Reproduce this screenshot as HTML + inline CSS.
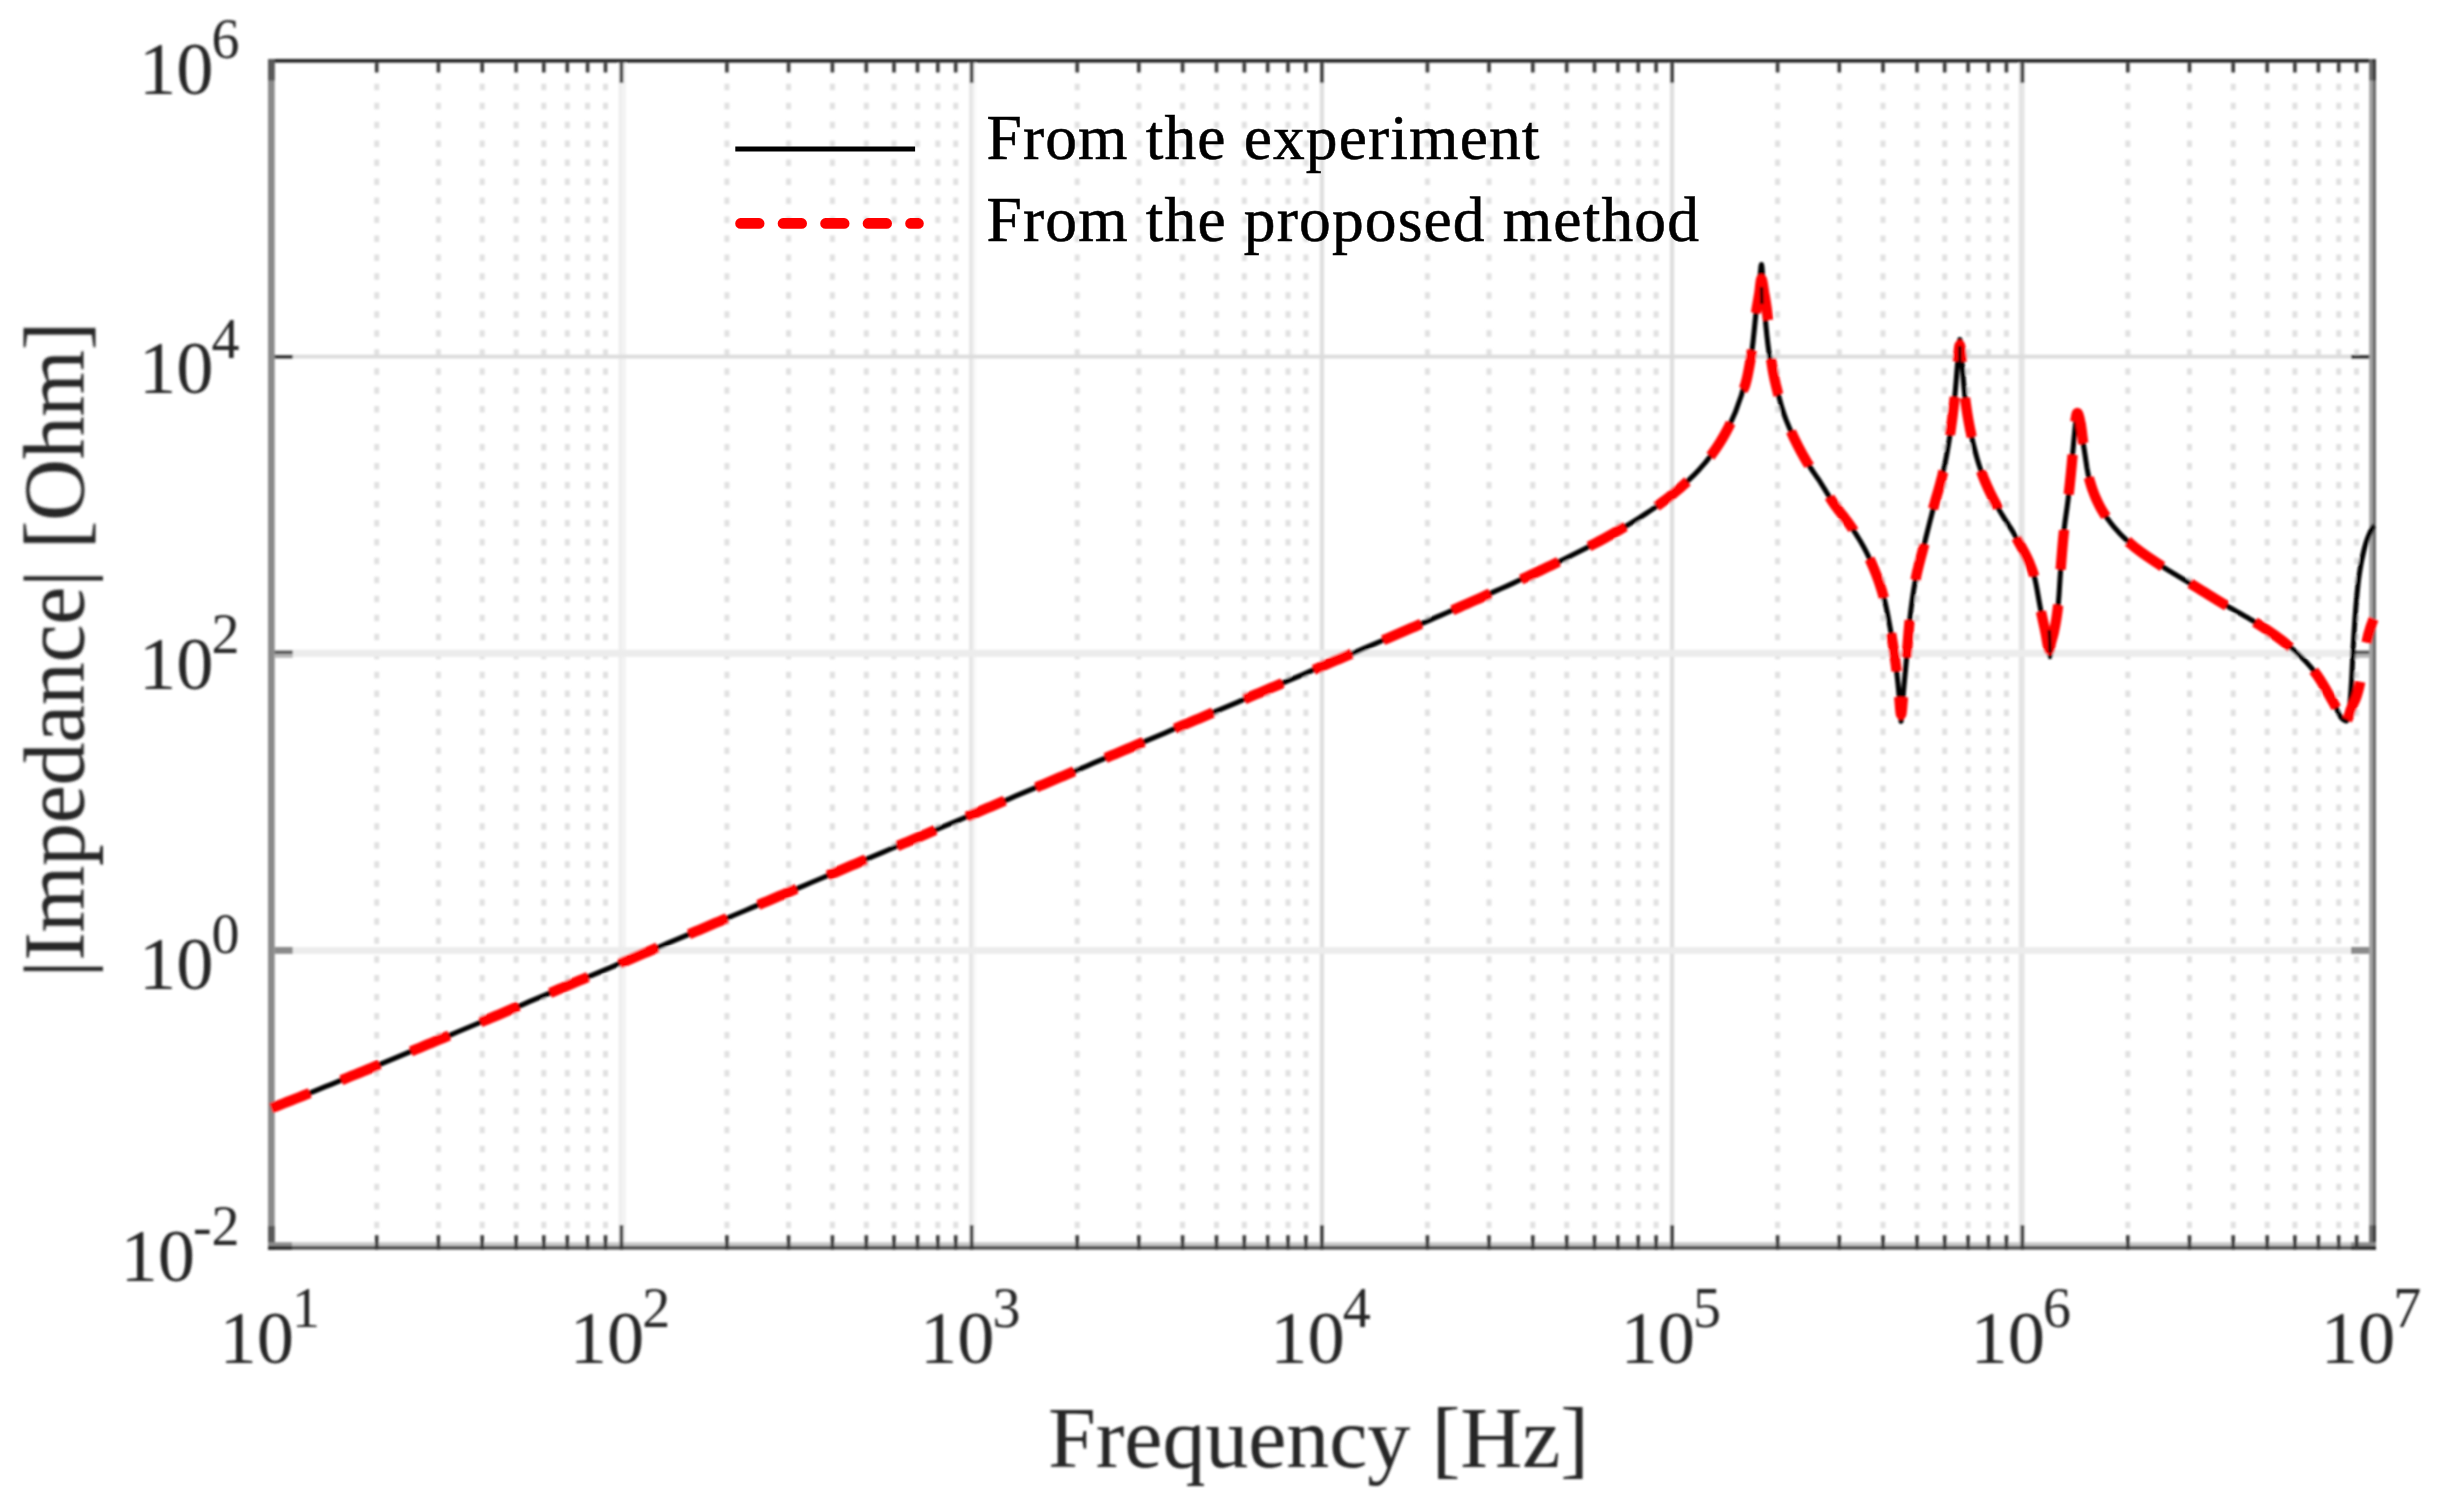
<!DOCTYPE html>
<html lang="en">
<head>
<meta charset="utf-8">
<title>Impedance versus frequency</title>
<style>
html,body{margin:0;padding:0;background:#fff;}
body{width:2440px;height:1505px;overflow:hidden;}
svg{display:block;}
</style>
</head>
<body>
<svg width="2440" height="1505" viewBox="0 0 2440 1505">
<rect width="2440" height="1505" fill="#fff"/>
<defs><filter id="soft" x="-2%" y="-2%" width="104%" height="104%"><feGaussianBlur stdDeviation="0.9"/></filter></defs>
<g filter="url(#soft)">
<g stroke="#e1e1e1" stroke-width="5" stroke-dasharray="6.5 12.466">
<line x1="376.7" y1="83.7" x2="376.7" y2="1238.0"/>
<line x1="438.4" y1="83.7" x2="438.4" y2="1238.0"/>
<line x1="482.2" y1="83.7" x2="482.2" y2="1238.0"/>
<line x1="516.1" y1="83.7" x2="516.1" y2="1238.0"/>
<line x1="543.8" y1="83.7" x2="543.8" y2="1238.0"/>
<line x1="567.3" y1="83.7" x2="567.3" y2="1238.0"/>
<line x1="587.6" y1="83.7" x2="587.6" y2="1238.0"/>
<line x1="605.5" y1="83.7" x2="605.5" y2="1238.0"/>
<line x1="726.9" y1="83.7" x2="726.9" y2="1238.0"/>
<line x1="788.6" y1="83.7" x2="788.6" y2="1238.0"/>
<line x1="832.4" y1="83.7" x2="832.4" y2="1238.0"/>
<line x1="866.3" y1="83.7" x2="866.3" y2="1238.0"/>
<line x1="894.0" y1="83.7" x2="894.0" y2="1238.0"/>
<line x1="917.5" y1="83.7" x2="917.5" y2="1238.0"/>
<line x1="937.8" y1="83.7" x2="937.8" y2="1238.0"/>
<line x1="955.7" y1="83.7" x2="955.7" y2="1238.0"/>
<line x1="1077.2" y1="83.7" x2="1077.2" y2="1238.0"/>
<line x1="1138.8" y1="83.7" x2="1138.8" y2="1238.0"/>
<line x1="1182.6" y1="83.7" x2="1182.6" y2="1238.0"/>
<line x1="1216.5" y1="83.7" x2="1216.5" y2="1238.0"/>
<line x1="1244.3" y1="83.7" x2="1244.3" y2="1238.0"/>
<line x1="1267.7" y1="83.7" x2="1267.7" y2="1238.0"/>
<line x1="1288.0" y1="83.7" x2="1288.0" y2="1238.0"/>
<line x1="1305.9" y1="83.7" x2="1305.9" y2="1238.0"/>
<line x1="1427.4" y1="83.7" x2="1427.4" y2="1238.0"/>
<line x1="1489.0" y1="83.7" x2="1489.0" y2="1238.0"/>
<line x1="1532.8" y1="83.7" x2="1532.8" y2="1238.0"/>
<line x1="1566.7" y1="83.7" x2="1566.7" y2="1238.0"/>
<line x1="1594.5" y1="83.7" x2="1594.5" y2="1238.0"/>
<line x1="1617.9" y1="83.7" x2="1617.9" y2="1238.0"/>
<line x1="1638.2" y1="83.7" x2="1638.2" y2="1238.0"/>
<line x1="1656.1" y1="83.7" x2="1656.1" y2="1238.0"/>
<line x1="1777.6" y1="83.7" x2="1777.6" y2="1238.0"/>
<line x1="1839.3" y1="83.7" x2="1839.3" y2="1238.0"/>
<line x1="1883.0" y1="83.7" x2="1883.0" y2="1238.0"/>
<line x1="1917.0" y1="83.7" x2="1917.0" y2="1238.0"/>
<line x1="1944.7" y1="83.7" x2="1944.7" y2="1238.0"/>
<line x1="1968.1" y1="83.7" x2="1968.1" y2="1238.0"/>
<line x1="1988.4" y1="83.7" x2="1988.4" y2="1238.0"/>
<line x1="2006.4" y1="83.7" x2="2006.4" y2="1238.0"/>
<line x1="2127.8" y1="83.7" x2="2127.8" y2="1238.0"/>
<line x1="2189.5" y1="83.7" x2="2189.5" y2="1238.0"/>
<line x1="2233.2" y1="83.7" x2="2233.2" y2="1238.0"/>
<line x1="2267.2" y1="83.7" x2="2267.2" y2="1238.0"/>
<line x1="2294.9" y1="83.7" x2="2294.9" y2="1238.0"/>
<line x1="2318.4" y1="83.7" x2="2318.4" y2="1238.0"/>
<line x1="2338.7" y1="83.7" x2="2338.7" y2="1238.0"/>
<line x1="2356.6" y1="83.7" x2="2356.6" y2="1238.0"/>
</g>
<rect x="618.6" y="60.8" width="3.7" height="1185.2" fill="#eeeeee"/>
<rect x="622.3" y="60.8" width="3.7" height="1185.2" fill="#f3f3f3"/>
<rect x="969.0" y="60.8" width="4.0" height="1185.2" fill="#e6e6e6"/>
<rect x="973.0" y="60.8" width="3.1" height="1185.2" fill="#f7f7f7"/>
<rect x="1319.8" y="60.8" width="4.3" height="1185.2" fill="#dfdfdf"/>
<rect x="1669.9" y="60.8" width="4.3" height="1185.2" fill="#dfdfdf"/>
<rect x="2018.8" y="60.8" width="5.7" height="1185.2" fill="#e4e4e4"/>
<rect x="271.3" y="354.7" width="2101.3" height="3.8" fill="#dcdcdc"/>
<rect x="271.3" y="649.8" width="2101.3" height="7.0" fill="#ececec"/>
<rect x="271.3" y="947.2" width="2101.3" height="6.6" fill="#ececec"/>
<rect x="268" y="59" width="6.7" height="1190.6" fill="#8a8a8a"/>
<rect x="2369.2" y="59" width="3.4" height="1190.6" fill="#a0a0a0"/>
<rect x="2372.6" y="59" width="3.4" height="1190.6" fill="#6a6a6a"/>
<rect x="268" y="1242.3" width="2108" height="3.7" fill="#c4c4c4"/>
<rect x="268" y="1246" width="2108" height="3.6" fill="#4a4a4a"/>
<rect x="268" y="59" width="2108" height="3.6" fill="#222"/>
<rect x="268" y="59" width="6.7" height="21.5" fill="#585858"/>
<rect x="268" y="1226" width="6.7" height="23.6" fill="#585858"/>
<rect x="2369.2" y="59" width="3.4" height="21.5" fill="#6c6c6c"/>
<rect x="2372.6" y="59" width="3.4" height="21.5" fill="#3a3a3a"/>
<rect x="2369.2" y="1225.3" width="3.4" height="24.3" fill="#6c6c6c"/>
<rect x="2372.6" y="1225.3" width="3.4" height="24.3" fill="#3a3a3a"/>
<rect x="268" y="1242.3" width="24" height="3.7" fill="#8c8c8c"/>
<rect x="268" y="1246" width="24" height="3.6" fill="#2c2c2c"/>
<rect x="2351" y="1242.3" width="25" height="3.7" fill="#8c8c8c"/>
<rect x="2351" y="1246" width="25" height="3.6" fill="#2c2c2c"/>
<g stroke="#383838" stroke-width="3.6">
<line x1="376.7" y1="62.6" x2="376.7" y2="72.5"/>
<line x1="376.7" y1="1235.2" x2="376.7" y2="1249.6"/>
<line x1="438.4" y1="62.6" x2="438.4" y2="72.5"/>
<line x1="438.4" y1="1235.2" x2="438.4" y2="1249.6"/>
<line x1="482.2" y1="62.6" x2="482.2" y2="72.5"/>
<line x1="482.2" y1="1235.2" x2="482.2" y2="1249.6"/>
<line x1="516.1" y1="62.6" x2="516.1" y2="72.5"/>
<line x1="516.1" y1="1235.2" x2="516.1" y2="1249.6"/>
<line x1="543.8" y1="62.6" x2="543.8" y2="72.5"/>
<line x1="543.8" y1="1235.2" x2="543.8" y2="1249.6"/>
<line x1="567.3" y1="62.6" x2="567.3" y2="72.5"/>
<line x1="567.3" y1="1235.2" x2="567.3" y2="1249.6"/>
<line x1="587.6" y1="62.6" x2="587.6" y2="72.5"/>
<line x1="587.6" y1="1235.2" x2="587.6" y2="1249.6"/>
<line x1="605.5" y1="62.6" x2="605.5" y2="72.5"/>
<line x1="605.5" y1="1235.2" x2="605.5" y2="1249.6"/>
<line x1="726.9" y1="62.6" x2="726.9" y2="72.5"/>
<line x1="726.9" y1="1235.2" x2="726.9" y2="1249.6"/>
<line x1="788.6" y1="62.6" x2="788.6" y2="72.5"/>
<line x1="788.6" y1="1235.2" x2="788.6" y2="1249.6"/>
<line x1="832.4" y1="62.6" x2="832.4" y2="72.5"/>
<line x1="832.4" y1="1235.2" x2="832.4" y2="1249.6"/>
<line x1="866.3" y1="62.6" x2="866.3" y2="72.5"/>
<line x1="866.3" y1="1235.2" x2="866.3" y2="1249.6"/>
<line x1="894.0" y1="62.6" x2="894.0" y2="72.5"/>
<line x1="894.0" y1="1235.2" x2="894.0" y2="1249.6"/>
<line x1="917.5" y1="62.6" x2="917.5" y2="72.5"/>
<line x1="917.5" y1="1235.2" x2="917.5" y2="1249.6"/>
<line x1="937.8" y1="62.6" x2="937.8" y2="72.5"/>
<line x1="937.8" y1="1235.2" x2="937.8" y2="1249.6"/>
<line x1="955.7" y1="62.6" x2="955.7" y2="72.5"/>
<line x1="955.7" y1="1235.2" x2="955.7" y2="1249.6"/>
<line x1="1077.2" y1="62.6" x2="1077.2" y2="72.5"/>
<line x1="1077.2" y1="1235.2" x2="1077.2" y2="1249.6"/>
<line x1="1138.8" y1="62.6" x2="1138.8" y2="72.5"/>
<line x1="1138.8" y1="1235.2" x2="1138.8" y2="1249.6"/>
<line x1="1182.6" y1="62.6" x2="1182.6" y2="72.5"/>
<line x1="1182.6" y1="1235.2" x2="1182.6" y2="1249.6"/>
<line x1="1216.5" y1="62.6" x2="1216.5" y2="72.5"/>
<line x1="1216.5" y1="1235.2" x2="1216.5" y2="1249.6"/>
<line x1="1244.3" y1="62.6" x2="1244.3" y2="72.5"/>
<line x1="1244.3" y1="1235.2" x2="1244.3" y2="1249.6"/>
<line x1="1267.7" y1="62.6" x2="1267.7" y2="72.5"/>
<line x1="1267.7" y1="1235.2" x2="1267.7" y2="1249.6"/>
<line x1="1288.0" y1="62.6" x2="1288.0" y2="72.5"/>
<line x1="1288.0" y1="1235.2" x2="1288.0" y2="1249.6"/>
<line x1="1305.9" y1="62.6" x2="1305.9" y2="72.5"/>
<line x1="1305.9" y1="1235.2" x2="1305.9" y2="1249.6"/>
<line x1="1427.4" y1="62.6" x2="1427.4" y2="72.5"/>
<line x1="1427.4" y1="1235.2" x2="1427.4" y2="1249.6"/>
<line x1="1489.0" y1="62.6" x2="1489.0" y2="72.5"/>
<line x1="1489.0" y1="1235.2" x2="1489.0" y2="1249.6"/>
<line x1="1532.8" y1="62.6" x2="1532.8" y2="72.5"/>
<line x1="1532.8" y1="1235.2" x2="1532.8" y2="1249.6"/>
<line x1="1566.7" y1="62.6" x2="1566.7" y2="72.5"/>
<line x1="1566.7" y1="1235.2" x2="1566.7" y2="1249.6"/>
<line x1="1594.5" y1="62.6" x2="1594.5" y2="72.5"/>
<line x1="1594.5" y1="1235.2" x2="1594.5" y2="1249.6"/>
<line x1="1617.9" y1="62.6" x2="1617.9" y2="72.5"/>
<line x1="1617.9" y1="1235.2" x2="1617.9" y2="1249.6"/>
<line x1="1638.2" y1="62.6" x2="1638.2" y2="72.5"/>
<line x1="1638.2" y1="1235.2" x2="1638.2" y2="1249.6"/>
<line x1="1656.1" y1="62.6" x2="1656.1" y2="72.5"/>
<line x1="1656.1" y1="1235.2" x2="1656.1" y2="1249.6"/>
<line x1="1777.6" y1="62.6" x2="1777.6" y2="72.5"/>
<line x1="1777.6" y1="1235.2" x2="1777.6" y2="1249.6"/>
<line x1="1839.3" y1="62.6" x2="1839.3" y2="72.5"/>
<line x1="1839.3" y1="1235.2" x2="1839.3" y2="1249.6"/>
<line x1="1883.0" y1="62.6" x2="1883.0" y2="72.5"/>
<line x1="1883.0" y1="1235.2" x2="1883.0" y2="1249.6"/>
<line x1="1917.0" y1="62.6" x2="1917.0" y2="72.5"/>
<line x1="1917.0" y1="1235.2" x2="1917.0" y2="1249.6"/>
<line x1="1944.7" y1="62.6" x2="1944.7" y2="72.5"/>
<line x1="1944.7" y1="1235.2" x2="1944.7" y2="1249.6"/>
<line x1="1968.1" y1="62.6" x2="1968.1" y2="72.5"/>
<line x1="1968.1" y1="1235.2" x2="1968.1" y2="1249.6"/>
<line x1="1988.4" y1="62.6" x2="1988.4" y2="72.5"/>
<line x1="1988.4" y1="1235.2" x2="1988.4" y2="1249.6"/>
<line x1="2006.4" y1="62.6" x2="2006.4" y2="72.5"/>
<line x1="2006.4" y1="1235.2" x2="2006.4" y2="1249.6"/>
<line x1="2127.8" y1="62.6" x2="2127.8" y2="72.5"/>
<line x1="2127.8" y1="1235.2" x2="2127.8" y2="1249.6"/>
<line x1="2189.5" y1="62.6" x2="2189.5" y2="72.5"/>
<line x1="2189.5" y1="1235.2" x2="2189.5" y2="1249.6"/>
<line x1="2233.2" y1="62.6" x2="2233.2" y2="72.5"/>
<line x1="2233.2" y1="1235.2" x2="2233.2" y2="1249.6"/>
<line x1="2267.2" y1="62.6" x2="2267.2" y2="72.5"/>
<line x1="2267.2" y1="1235.2" x2="2267.2" y2="1249.6"/>
<line x1="2294.9" y1="62.6" x2="2294.9" y2="72.5"/>
<line x1="2294.9" y1="1235.2" x2="2294.9" y2="1249.6"/>
<line x1="2318.4" y1="62.6" x2="2318.4" y2="72.5"/>
<line x1="2318.4" y1="1235.2" x2="2318.4" y2="1249.6"/>
<line x1="2338.7" y1="62.6" x2="2338.7" y2="72.5"/>
<line x1="2338.7" y1="1235.2" x2="2338.7" y2="1249.6"/>
<line x1="2356.6" y1="62.6" x2="2356.6" y2="72.5"/>
<line x1="2356.6" y1="1235.2" x2="2356.6" y2="1249.6"/>
<line x1="621.5" y1="62.6" x2="621.5" y2="83.0"/>
<line x1="621.5" y1="1225.0" x2="621.5" y2="1249.6"/>
<line x1="971.7" y1="62.6" x2="971.7" y2="83.0"/>
<line x1="971.7" y1="1225.0" x2="971.7" y2="1249.6"/>
<line x1="1321.9" y1="62.6" x2="1321.9" y2="83.0"/>
<line x1="1321.9" y1="1225.0" x2="1321.9" y2="1249.6"/>
<line x1="1672.2" y1="62.6" x2="1672.2" y2="83.0"/>
<line x1="1672.2" y1="1225.0" x2="1672.2" y2="1249.6"/>
<line x1="2022.4" y1="62.6" x2="2022.4" y2="83.0"/>
<line x1="2022.4" y1="1225.0" x2="2022.4" y2="1249.6"/>
</g>
<rect x="274.7" y="355.0" width="18" height="3.5" fill="#262626"/>
<rect x="2351" y="355.0" width="18.2" height="3.5" fill="#262626"/>
<rect x="274.7" y="650.6" width="18" height="3.3" fill="#484848"/>
<rect x="2351" y="650.6" width="18.2" height="3.3" fill="#484848"/>
<rect x="274.7" y="653.9" width="18" height="3.9" fill="#b4b4b4"/>
<rect x="2351" y="653.9" width="18.2" height="3.9" fill="#b4b4b4"/>
<rect x="274.7" y="947.0" width="18" height="6.8" fill="#8a8a8a"/>
<rect x="2351" y="947.0" width="18.2" height="6.8" fill="#8a8a8a"/>
<clipPath id="ax"><rect x="268.0" y="60.8" width="2111.0" height="1185.2"/></clipPath>
<g clip-path="url(#ax)" fill="none" stroke-linejoin="round">
<path d="M271.3 1108.2 L277.3 1105.9 L283.3 1103.5 L289.3 1101.2 L295.3 1098.8 L301.3 1096.4 L307.3 1094.0 L313.3 1091.6 L319.3 1089.2 L325.3 1086.7 L331.3 1084.3 L337.3 1081.9 L343.3 1079.4 L349.3 1077.0 L355.3 1074.5 L361.3 1072.0 L367.3 1069.6 L373.3 1067.1 L379.3 1064.6 L385.3 1062.1 L391.3 1059.6 L397.3 1057.1 L403.3 1054.6 L409.3 1052.1 L415.3 1049.6 L421.3 1047.1 L427.3 1044.6 L433.3 1042.1 L439.3 1039.6 L445.3 1037.1 L451.3 1034.6 L457.3 1032.0 L463.3 1029.5 L469.3 1027.0 L475.3 1024.5 L481.3 1022.0 L487.3 1019.4 L493.3 1016.9 L499.3 1014.4 L505.3 1011.9 L511.3 1009.3 L517.3 1006.8 L523.3 1004.3 L529.3 1001.7 L535.3 999.2 L541.3 996.7 L547.3 994.1 L553.3 991.6 L559.3 989.1 L565.3 986.5 L571.3 984.0 L577.3 981.5 L583.3 978.9 L589.3 976.4 L595.3 973.9 L601.3 971.3 L607.3 968.8 L613.3 966.3 L619.3 963.7 L625.3 961.2 L631.3 958.7 L637.3 956.1 L643.3 953.6 L649.3 951.1 L655.3 948.5 L661.3 946.0 L667.3 943.4 L673.3 940.9 L679.3 938.4 L685.3 935.8 L691.3 933.3 L697.3 930.8 L703.3 928.2 L709.3 925.7 L715.3 923.1 L721.3 920.6 L727.3 918.1 L733.3 915.5 L739.3 913.0 L745.3 910.5 L751.3 907.9 L757.3 905.4 L763.3 902.8 L769.3 900.3 L775.3 897.8 L781.3 895.2 L787.3 892.7 L793.3 890.2 L799.3 887.6 L805.3 885.1 L811.3 882.5 L817.3 880.0 L823.3 877.5 L829.3 874.9 L835.3 872.4 L841.3 869.8 L847.3 867.3 L853.3 864.8 L859.3 862.2 L865.3 859.7 L871.3 857.2 L877.3 854.6 L883.3 852.1 L889.3 849.5 L895.3 847.0 L901.3 844.5 L907.3 841.9 L913.3 839.4 L919.3 836.9 L925.3 834.3 L931.3 831.8 L937.3 829.2 L943.3 826.7 L949.3 824.2 L955.3 821.6 L961.3 819.1 L967.3 816.5 L973.3 814.0 L979.3 811.5 L985.3 808.9 L991.3 806.4 L997.3 803.9 L1003.3 801.3 L1009.3 798.8 L1015.3 796.2 L1021.3 793.7 L1027.3 791.2 L1033.3 788.6 L1039.3 786.1 L1045.3 783.5 L1051.3 781.0 L1057.3 778.5 L1063.3 775.9 L1069.3 773.4 L1075.3 770.9 L1081.3 768.3 L1087.3 765.8 L1093.3 763.2 L1099.3 760.7 L1105.3 758.2 L1111.3 755.6 L1117.3 753.1 L1123.3 750.5 L1129.3 748.0 L1135.3 745.5 L1141.3 742.9 L1147.3 740.4 L1153.3 737.8 L1159.3 735.3 L1165.3 732.8 L1171.3 730.2 L1177.3 727.7 L1183.3 725.1 L1189.3 722.6 L1195.3 720.1 L1201.3 717.5 L1207.3 715.0 L1213.3 712.4 L1219.3 709.9 L1225.3 707.4 L1231.3 704.8 L1237.3 702.3 L1243.3 699.7 L1249.3 697.2 L1255.3 694.6 L1261.3 692.1 L1267.3 689.5 L1273.3 687.0 L1279.3 684.5 L1285.3 681.9 L1291.3 679.4 L1297.3 676.8 L1303.3 674.3 L1309.3 671.7 L1315.3 669.2 L1321.3 666.6 L1327.3 664.0 L1333.3 661.5 L1339.3 658.9 L1345.3 656.4 L1351.3 653.8 L1357.3 651.3 L1363.3 648.7 L1369.3 646.1 L1375.3 643.6 L1381.3 641.0 L1387.3 638.4 L1393.3 635.8 L1399.3 633.3 L1405.3 630.7 L1411.3 628.1 L1417.3 625.5 L1423.3 622.9 L1429.3 620.3 L1435.3 617.7 L1441.3 615.1 L1447.3 612.5 L1453.3 609.8 L1459.3 607.2 L1465.3 604.6 L1471.3 601.9 L1477.3 599.3 L1483.3 596.6 L1489.3 593.9 L1495.3 591.2 L1501.3 588.5 L1507.3 585.8 L1513.3 583.1 L1519.3 580.3 L1525.3 577.6 L1531.3 574.8 L1537.3 572.0 L1543.3 569.1 L1549.3 566.3 L1555.3 563.4 L1561.3 560.5 L1567.3 557.5 L1573.3 554.5 L1579.3 551.5 L1585.3 548.4 L1591.3 545.3 L1597.3 542.2 L1603.3 538.9 L1609.3 535.6 L1615.3 532.3 L1621.3 528.8 L1627.3 525.3 L1633.3 521.6 L1639.3 517.9 L1645.3 514.0 L1651.3 510.0 L1657.3 505.8 L1663.3 501.4 L1669.3 496.9 L1675.3 492.1 L1681.3 487.0 L1687.3 481.5 L1693.3 475.7 L1699.3 469.4 L1705.3 462.6 L1711.3 455.0 L1717.3 446.6 L1723.3 437.0 L1729.3 425.8 L1735.3 412.3 L1741.3 395.5 L1743.0 389.6 L1744.0 388.1 L1745.0 385.6 L1746.0 382.2 L1747.0 378.1 L1748.0 373.4 L1749.0 368.1 L1750.0 362.5 L1751.0 356.6 L1751.6 353.0 L1752.0 350.4 L1753.0 342.1 L1754.0 332.4 L1755.0 322.4 L1755.8 314.8 L1756.0 313.0 L1757.0 304.1 L1758.0 295.2 L1759.0 286.4 L1759.5 282.0 L1760.0 276.8 L1761.0 266.4 L1761.5 264.5 L1762.0 267.4 L1763.0 282.5 L1763.3 287.0 L1764.0 297.7 L1765.0 314.0 L1765.6 322.0 L1766.0 326.4 L1767.0 336.4 L1768.0 345.1 L1769.0 352.5 L1769.7 357.0 L1770.0 358.8 L1771.0 364.3 L1772.0 369.3 L1773.0 373.8 L1774.0 378.1 L1775.0 382.0 L1776.0 385.8 L1777.0 389.6 L1777.9 393.0 L1778.0 393.4 L1779.0 397.2 L1780.0 400.8 L1781.0 404.4 L1782.0 407.8 L1783.0 411.0 L1784.0 414.0 L1784.4 415.2 L1785.0 416.9 L1786.0 419.6 L1787.0 422.1 L1788.0 424.6 L1789.0 426.9 L1790.0 429.2 L1791.0 431.4 L1792.0 433.6 L1792.6 434.9 L1793.0 435.8 L1794.0 437.9 L1795.0 439.9 L1796.0 441.9 L1797.0 443.9 L1798.0 445.9 L1799.0 447.8 L1800.0 449.7 L1801.0 451.6 L1802.0 453.4 L1803.0 455.2 L1804.0 457.0 L1805.0 458.7 L1806.0 460.4 L1807.0 462.1 L1807.4 462.8 L1808.0 463.8 L1809.0 465.4 L1810.0 467.0 L1811.0 468.5 L1812.0 470.0 L1813.0 471.5 L1814.0 472.9 L1815.0 474.4 L1816.0 475.8 L1817.0 477.3 L1818.0 478.7 L1819.0 480.2 L1820.0 481.7 L1820.5 482.5 L1821.0 483.3 L1822.0 484.9 L1823.0 486.5 L1824.0 488.1 L1825.0 489.7 L1826.0 491.4 L1827.0 493.0 L1828.0 494.6 L1829.0 496.3 L1830.0 497.8 L1831.0 499.4 L1832.0 500.9 L1832.4 501.5 L1833.0 502.4 L1834.0 503.8 L1835.0 505.2 L1836.0 506.6 L1837.0 507.9 L1838.0 509.2 L1839.0 510.5 L1840.0 511.8 L1841.0 513.1 L1842.0 514.4 L1843.0 515.7 L1844.0 516.9 L1845.0 518.2 L1846.0 519.5 L1847.0 520.9 L1848.0 522.2 L1849.0 523.6 L1850.0 525.0 L1851.0 526.5 L1852.0 528.0 L1853.0 529.5 L1854.0 531.1 L1855.0 532.6 L1856.0 534.2 L1857.0 535.8 L1858.0 537.4 L1859.0 539.0 L1860.0 540.6 L1861.0 542.3 L1862.0 544.1 L1863.0 545.8 L1864.0 547.6 L1865.0 549.5 L1866.0 551.4 L1867.0 553.4 L1868.0 555.4 L1869.0 557.5 L1870.0 559.6 L1871.0 561.8 L1872.0 564.0 L1873.0 566.3 L1874.0 568.7 L1875.0 571.1 L1876.0 573.7 L1877.0 576.3 L1878.0 579.0 L1879.0 581.9 L1880.0 584.8 L1881.0 587.9 L1882.0 591.2 L1883.0 594.6 L1883.6 596.7 L1884.0 598.2 L1885.0 602.1 L1886.0 606.5 L1887.0 611.3 L1888.0 616.3 L1889.0 621.6 L1890.0 627.1 L1891.0 632.8 L1892.0 638.7 L1893.0 645.0 L1894.0 651.7 L1895.0 658.8 L1896.0 666.4 L1896.7 672.1 L1897.0 674.7 L1898.0 683.9 L1899.0 694.4 L1899.5 700.0 L1900.0 707.7 L1901.0 721.1 L1901.1 721.3 L1902.0 712.8 L1903.0 697.0 L1904.0 685.6 L1905.0 674.8 L1906.0 664.1 L1906.6 657.4 L1907.0 652.7 L1908.0 640.2 L1909.0 628.0 L1909.8 619.7 L1910.0 617.9 L1911.0 609.3 L1912.0 601.5 L1913.0 594.5 L1914.0 588.2 L1914.8 583.6 L1915.0 582.5 L1916.0 577.4 L1917.0 572.8 L1918.0 568.5 L1919.0 564.4 L1920.0 560.5 L1921.0 556.8 L1922.0 553.0 L1923.0 549.2 L1924.0 545.3 L1924.2 544.5 L1925.0 541.3 L1926.0 537.2 L1927.0 533.2 L1928.0 529.1 L1929.0 525.2 L1930.0 521.2 L1931.0 517.3 L1932.0 513.4 L1933.0 509.5 L1934.0 505.8 L1935.0 502.2 L1936.0 498.7 L1937.0 495.2 L1938.0 491.8 L1939.0 488.3 L1940.0 484.7 L1941.0 480.9 L1942.0 477.0 L1943.0 472.8 L1943.4 471.0 L1944.0 468.3 L1945.0 463.5 L1946.0 458.4 L1947.0 453.0 L1948.0 447.3 L1949.0 441.3 L1950.0 434.9 L1951.0 428.1 L1952.0 420.7 L1953.0 412.8 L1954.0 404.1 L1954.9 395.6 L1955.0 394.6 L1956.0 383.0 L1957.0 370.1 L1958.0 358.0 L1959.0 345.0 L1959.8 339.5 L1960.0 339.9 L1961.0 350.3 L1961.6 358.0 L1962.0 362.6 L1963.0 375.3 L1964.0 387.6 L1964.8 395.6 L1965.0 397.2 L1966.0 404.9 L1967.0 411.7 L1968.0 417.9 L1969.0 423.5 L1970.0 428.7 L1971.0 433.5 L1971.3 434.9 L1972.0 438.1 L1973.0 442.5 L1974.0 446.7 L1975.0 450.7 L1976.0 454.5 L1977.0 458.1 L1978.0 461.5 L1979.0 464.7 L1980.0 467.8 L1981.0 470.7 L1981.1 471.0 L1982.0 473.5 L1983.0 476.1 L1984.0 478.7 L1985.0 481.1 L1986.0 483.5 L1987.0 485.8 L1988.0 488.0 L1989.0 490.2 L1990.0 492.3 L1991.0 494.3 L1992.0 496.3 L1993.0 498.3 L1994.0 500.2 L1995.0 502.1 L1996.0 504.0 L1996.5 505.0 L1997.0 505.9 L1998.0 507.8 L1999.0 509.6 L2000.0 511.3 L2001.0 513.0 L2002.0 514.6 L2003.0 516.2 L2004.0 517.8 L2005.0 519.4 L2006.0 520.9 L2007.0 522.5 L2008.0 524.0 L2009.0 525.6 L2010.0 527.1 L2011.0 528.7 L2012.0 530.3 L2013.0 532.0 L2014.0 533.7 L2015.0 535.4 L2016.0 537.2 L2016.8 538.7 L2017.0 539.1 L2018.0 540.9 L2019.0 542.7 L2020.0 544.5 L2021.0 546.2 L2022.0 548.0 L2023.0 549.8 L2024.0 551.6 L2025.0 553.5 L2026.0 555.5 L2027.0 557.5 L2028.0 559.7 L2029.0 561.9 L2030.0 564.3 L2031.0 566.9 L2032.0 569.6 L2033.0 572.5 L2034.0 575.6 L2035.0 579.3 L2036.0 584.0 L2037.0 589.3 L2038.0 595.0 L2039.0 600.7 L2040.0 606.3 L2041.0 611.5 L2042.0 616.3 L2043.0 620.8 L2044.0 625.4 L2045.0 630.0 L2045.9 634.4 L2046.0 634.9 L2047.0 640.0 L2048.0 645.3 L2048.5 648.0 L2049.0 651.5 L2050.0 656.6 L2051.0 650.8 L2051.6 646.0 L2052.0 643.5 L2053.0 637.6 L2054.0 631.7 L2054.1 631.1 L2055.0 625.9 L2056.0 620.4 L2057.0 614.3 L2058.0 606.7 L2058.2 604.9 L2059.0 595.1 L2060.0 579.2 L2060.7 568.9 L2061.0 565.0 L2062.0 552.4 L2063.0 540.7 L2064.0 530.5 L2065.0 522.1 L2066.0 514.8 L2067.0 507.9 L2068.0 500.4 L2068.4 497.0 L2069.0 491.6 L2070.0 481.7 L2071.0 471.3 L2072.0 460.6 L2073.0 450.0 L2074.0 439.0 L2075.0 428.7 L2075.2 427.0 L2076.0 419.7 L2077.0 414.5 L2078.0 417.1 L2079.0 422.4 L2079.5 425.0 L2080.0 427.3 L2081.0 432.1 L2082.0 437.2 L2083.0 442.5 L2083.7 446.4 L2084.0 448.1 L2085.0 454.6 L2086.0 461.5 L2087.0 468.1 L2088.0 473.6 L2088.3 475.0 L2089.0 477.9 L2090.0 481.6 L2091.0 485.0 L2092.0 488.1 L2093.0 490.9 L2094.0 493.5 L2095.0 496.0 L2096.0 498.3 L2097.0 500.6 L2098.0 502.7 L2099.0 504.7 L2100.0 506.7 L2101.0 508.5 L2102.0 510.2 L2103.0 511.9 L2104.0 513.5 L2105.0 515.0 L2106.0 516.5 L2107.0 517.9 L2108.0 519.3 L2109.0 520.6 L2110.0 522.0 L2111.0 523.3 L2112.0 524.5 L2113.0 525.8 L2114.0 527.0 L2115.0 528.1 L2116.0 529.3 L2117.0 530.4 L2118.0 531.5 L2119.0 532.6 L2120.0 533.7 L2121.0 534.7 L2122.0 535.7 L2123.0 536.7 L2124.0 537.7 L2125.0 538.6 L2126.0 539.6 L2127.0 540.5 L2128.0 541.4 L2128.3 541.7 L2129.0 542.3 L2130.0 543.2 L2131.0 544.1 L2132.0 544.9 L2133.0 545.8 L2134.0 546.6 L2135.0 547.4 L2136.0 548.2 L2137.0 549.0 L2138.0 549.8 L2139.0 550.5 L2140.0 551.3 L2141.0 552.0 L2142.0 552.7 L2143.0 553.5 L2144.0 554.2 L2145.0 554.9 L2146.0 555.6 L2147.0 556.3 L2148.0 557.0 L2149.0 557.6 L2150.0 558.3 L2151.0 559.0 L2152.0 559.6 L2153.0 560.3 L2154.0 561.0 L2155.0 561.6 L2156.0 562.3 L2157.0 563.0 L2158.0 563.6 L2159.0 564.3 L2160.0 564.9 L2161.0 565.6 L2162.0 566.3 L2163.0 566.9 L2164.0 567.6 L2165.0 568.2 L2166.0 568.8 L2167.0 569.5 L2168.0 570.1 L2169.0 570.7 L2170.0 571.3 L2171.0 571.9 L2172.0 572.5 L2173.0 573.1 L2174.0 573.7 L2175.0 574.3 L2176.0 574.9 L2177.0 575.5 L2178.0 576.1 L2179.0 576.7 L2180.0 577.3 L2181.0 577.9 L2182.0 578.5 L2183.0 579.1 L2184.0 579.7 L2185.0 580.3 L2186.0 580.9 L2187.0 581.5 L2188.0 582.1 L2189.0 582.7 L2190.0 583.3 L2190.5 583.6 L2191.0 583.9 L2192.0 584.5 L2193.0 585.1 L2194.0 585.7 L2195.0 586.4 L2196.0 587.0 L2197.0 587.6 L2198.0 588.2 L2199.0 588.8 L2200.0 589.5 L2201.0 590.1 L2202.0 590.7 L2203.0 591.3 L2204.0 591.9 L2205.0 592.6 L2206.0 593.2 L2207.0 593.8 L2208.0 594.4 L2209.0 595.0 L2210.0 595.6 L2211.0 596.3 L2212.0 596.9 L2213.0 597.5 L2214.0 598.1 L2215.0 598.7 L2216.0 599.3 L2217.0 599.9 L2218.0 600.6 L2219.0 601.2 L2220.0 601.8 L2221.0 602.4 L2222.0 603.0 L2223.0 603.6 L2224.0 604.2 L2225.0 604.8 L2225.2 604.9 L2226.0 605.4 L2227.0 606.0 L2228.0 606.5 L2229.0 607.1 L2230.0 607.7 L2231.0 608.3 L2232.0 608.8 L2233.0 609.4 L2234.0 610.0 L2235.0 610.5 L2236.0 611.1 L2237.0 611.7 L2238.0 612.2 L2239.0 612.8 L2240.0 613.3 L2241.0 613.9 L2242.0 614.5 L2243.0 615.0 L2244.0 615.6 L2245.0 616.2 L2246.0 616.7 L2247.0 617.3 L2248.0 617.9 L2249.0 618.5 L2250.0 619.1 L2251.0 619.7 L2252.0 620.3 L2253.0 620.9 L2254.0 621.5 L2255.0 622.1 L2256.0 622.7 L2256.4 623.0 L2257.0 623.4 L2258.0 624.0 L2259.0 624.7 L2260.0 625.3 L2261.0 625.9 L2262.0 626.6 L2263.0 627.2 L2264.0 627.9 L2265.0 628.6 L2266.0 629.2 L2267.0 629.9 L2268.0 630.5 L2269.0 631.2 L2270.0 631.9 L2271.0 632.6 L2272.0 633.3 L2273.0 634.0 L2274.0 634.7 L2275.0 635.4 L2276.0 636.1 L2277.0 636.8 L2278.0 637.5 L2279.0 638.3 L2280.0 639.0 L2281.0 639.7 L2282.0 640.5 L2283.0 641.3 L2284.0 642.1 L2285.0 642.8 L2286.0 643.6 L2287.0 644.4 L2288.0 645.3 L2289.0 646.1 L2289.5 646.5 L2290.0 646.9 L2291.0 647.8 L2292.0 648.6 L2293.0 649.5 L2294.0 650.3 L2295.0 651.2 L2296.0 652.1 L2297.0 653.0 L2298.0 653.9 L2299.0 654.9 L2300.0 655.8 L2301.0 656.8 L2302.0 657.7 L2303.0 658.7 L2304.0 659.7 L2305.0 660.8 L2306.0 661.8 L2307.0 662.9 L2308.0 664.0 L2309.0 665.1 L2310.0 666.2 L2311.0 667.4 L2312.0 668.6 L2313.0 669.8 L2314.0 671.0 L2315.0 672.3 L2316.0 673.6 L2317.0 675.0 L2318.0 676.5 L2319.0 678.0 L2320.0 679.5 L2321.0 681.1 L2322.0 682.7 L2323.0 684.3 L2324.0 686.0 L2325.0 687.7 L2326.0 689.4 L2327.0 691.2 L2328.0 693.0 L2329.0 694.7 L2330.0 696.5 L2331.0 698.3 L2332.0 700.1 L2333.0 701.8 L2334.0 703.6 L2334.5 704.5 L2335.0 705.4 L2336.0 707.4 L2337.0 709.6 L2338.0 711.8 L2339.0 714.0 L2340.0 715.9 L2341.0 717.4 L2342.0 718.5 L2343.0 719.3 L2344.0 720.0 L2345.0 720.6 L2346.0 721.0 L2346.5 721.0 L2347.0 720.5 L2348.0 716.9 L2349.0 710.8 L2349.8 705.0 L2350.0 703.3 L2351.0 690.1 L2351.6 680.3 L2352.0 672.7 L2353.0 651.0 L2353.2 647.2 L2354.0 633.7 L2355.0 618.6 L2355.8 608.0 L2356.0 605.5 L2357.0 594.0 L2358.0 584.2 L2358.3 581.7 L2359.0 576.5 L2360.0 569.8 L2361.0 564.0 L2362.0 559.0 L2363.0 554.4 L2364.0 550.1 L2365.0 546.2 L2366.0 542.8 L2367.0 539.8 L2367.3 539.0 L2368.0 537.2 L2369.0 534.8 L2370.0 532.5 L2371.0 530.5 L2372.0 528.6 L2373.0 527.1 L2374.0 525.9 L2374.5 525.5" stroke="#000" stroke-width="5.1"/>
<path d="M271.3 1108.2 L275.3 1106.6 L279.3 1105.1 L283.3 1103.5 L287.3 1101.9 L291.3 1100.4 L295.3 1098.8 L299.3 1097.2 L303.3 1095.6 L307.3 1094.0 L311.3 1092.4 L315.3 1090.8 L319.3 1089.2 L323.3 1087.5 L327.3 1085.9 L331.3 1084.3 L335.3 1082.7 L339.3 1081.0 L343.3 1079.4 L347.3 1077.8 L351.3 1076.1 L355.3 1074.5 L359.3 1072.9 L363.3 1071.2 L367.3 1069.6 L371.3 1067.9 L375.3 1066.3 L379.3 1064.6 L383.3 1062.9 L387.3 1061.3 L391.3 1059.6 L395.3 1058.0 L399.3 1056.3 L403.3 1054.6 L407.3 1053.0 L411.3 1051.3 L415.3 1049.6 L419.3 1048.0 L423.3 1046.3 L427.3 1044.6 L431.3 1042.9 L435.3 1041.3 L439.3 1039.6 L443.3 1037.9 L447.3 1036.2 L451.3 1034.6 L455.3 1032.9 L459.3 1031.2 L463.3 1029.5 L467.3 1027.8 L471.3 1026.2 L475.3 1024.5 L479.3 1022.8 L483.3 1021.1 L487.3 1019.4 L491.3 1017.7 L495.3 1016.1 L499.3 1014.4 L503.3 1012.7 L507.3 1011.0 L511.3 1009.3 L515.3 1007.6 L519.3 1006.0 L523.3 1004.3 L527.3 1002.6 L531.3 1000.9 L535.3 999.2 L539.3 997.5 L543.3 995.8 L547.3 994.1 L551.3 992.5 L555.3 990.8 L559.3 989.1 L563.3 987.4 L567.3 985.7 L571.3 984.0 L575.3 982.3 L579.3 980.6 L583.3 978.9 L587.3 977.3 L591.3 975.6 L595.3 973.9 L599.3 972.2 L603.3 970.5 L607.3 968.8 L611.3 967.1 L615.3 965.4 L619.3 963.7 L623.3 962.0 L627.3 960.4 L631.3 958.7 L635.3 957.0 L639.3 955.3 L643.3 953.6 L647.3 951.9 L651.3 950.2 L655.3 948.5 L659.3 946.8 L663.3 945.1 L667.3 943.4 L671.3 941.8 L675.3 940.1 L679.3 938.4 L683.3 936.7 L687.3 935.0 L691.3 933.3 L695.3 931.6 L699.3 929.9 L703.3 928.2 L707.3 926.5 L711.3 924.8 L715.3 923.1 L719.3 921.5 L723.3 919.8 L727.3 918.1 L731.3 916.4 L735.3 914.7 L739.3 913.0 L743.3 911.3 L747.3 909.6 L751.3 907.9 L755.3 906.2 L759.3 904.5 L763.3 902.8 L767.3 901.2 L771.3 899.5 L775.3 897.8 L779.3 896.1 L783.3 894.4 L787.3 892.7 L791.3 891.0 L795.3 889.3 L799.3 887.6 L803.3 885.9 L807.3 884.2 L811.3 882.5 L815.3 880.8 L819.3 879.2 L823.3 877.5 L827.3 875.8 L831.3 874.1 L835.3 872.4 L839.3 870.7 L843.3 869.0 L847.3 867.3 L851.3 865.6 L855.3 863.9 L859.3 862.2 L863.3 860.5 L867.3 858.9 L871.3 857.2 L875.3 855.5 L879.3 853.8 L883.3 852.1 L887.3 850.4 L891.3 848.7 L895.3 847.0 L899.3 845.3 L903.3 843.6 L907.3 841.9 L911.3 840.2 L915.3 838.5 L919.3 836.9 L923.3 835.2 L927.3 833.5 L931.3 831.8 L935.3 830.1 L939.3 828.4 L943.3 826.7 L947.3 825.0 L951.3 823.3 L955.3 821.6 L959.3 819.9 L963.3 818.2 L967.3 816.5 L971.3 814.9 L975.3 813.2 L979.3 811.5 L983.3 809.8 L987.3 808.1 L991.3 806.4 L995.3 804.7 L999.3 803.0 L1003.3 801.3 L1007.3 799.6 L1011.3 797.9 L1015.3 796.2 L1019.3 794.5 L1023.3 792.9 L1027.3 791.2 L1031.3 789.5 L1035.3 787.8 L1039.3 786.1 L1043.3 784.4 L1047.3 782.7 L1051.3 781.0 L1055.3 779.3 L1059.3 777.6 L1063.3 775.9 L1067.3 774.2 L1071.3 772.5 L1075.3 770.9 L1079.3 769.2 L1083.3 767.5 L1087.3 765.8 L1091.3 764.1 L1095.3 762.4 L1099.3 760.7 L1103.3 759.0 L1107.3 757.3 L1111.3 755.6 L1115.3 753.9 L1119.3 752.2 L1123.3 750.5 L1127.3 748.9 L1131.3 747.2 L1135.3 745.5 L1139.3 743.8 L1143.3 742.1 L1147.3 740.4 L1151.3 738.7 L1155.3 737.0 L1159.3 735.3 L1163.3 733.6 L1167.3 731.9 L1171.3 730.2 L1175.3 728.5 L1179.3 726.8 L1183.3 725.1 L1187.3 723.5 L1191.3 721.8 L1195.3 720.1 L1199.3 718.4 L1203.3 716.7 L1207.3 715.0 L1211.3 713.3 L1215.3 711.6 L1219.3 709.9 L1223.3 708.2 L1227.3 706.5 L1231.3 704.8 L1235.3 703.1 L1239.3 701.4 L1243.3 699.7 L1247.3 698.0 L1251.3 696.3 L1255.3 694.6 L1259.3 692.9 L1263.3 691.2 L1267.3 689.5 L1271.3 687.8 L1275.3 686.2 L1279.3 684.5 L1283.3 682.8 L1287.3 681.1 L1291.3 679.4 L1295.3 677.7 L1299.3 676.0 L1303.3 674.3 L1307.3 672.6 L1311.3 670.9 L1315.3 669.2 L1319.3 667.5 L1323.3 665.8 L1327.3 664.0 L1331.3 662.3 L1335.3 660.6 L1339.3 658.9 L1343.3 657.2 L1347.3 655.5 L1351.3 653.8 L1355.3 652.1 L1359.3 650.4 L1363.3 648.7 L1367.3 647.0 L1371.3 645.3 L1375.3 643.6 L1379.3 641.8 L1383.3 640.1 L1387.3 638.4 L1391.3 636.7 L1395.3 635.0 L1399.3 633.3 L1403.3 631.5 L1407.3 629.8 L1411.3 628.1 L1415.3 626.4 L1419.3 624.6 L1423.3 622.9 L1427.3 621.2 L1431.3 619.4 L1435.3 617.7 L1439.3 615.9 L1443.3 614.2 L1447.3 612.5 L1451.3 610.7 L1455.3 609.0 L1459.3 607.2 L1463.3 605.4 L1467.3 603.7 L1471.3 601.9 L1475.3 600.1 L1479.3 598.4 L1483.3 596.6 L1487.3 594.8 L1491.3 593.0 L1495.3 591.2 L1499.3 589.4 L1503.3 587.6 L1507.3 585.8 L1511.3 584.0 L1515.3 582.2 L1519.3 580.3 L1523.3 578.5 L1527.3 576.6 L1531.3 574.8 L1535.3 572.9 L1539.3 571.0 L1543.3 569.1 L1547.3 567.2 L1551.3 565.3 L1555.3 563.4 L1559.3 561.4 L1563.3 559.5 L1567.3 557.5 L1571.3 555.5 L1575.3 553.5 L1579.3 551.5 L1583.3 549.5 L1587.3 547.4 L1591.3 545.3 L1595.3 543.2 L1599.3 541.1 L1603.3 538.9 L1607.3 536.7 L1611.3 534.5 L1615.3 532.3 L1619.3 530.0 L1623.3 527.6 L1627.3 525.3 L1631.3 522.9 L1635.3 520.4 L1639.3 517.9 L1643.3 515.3 L1647.3 512.7" stroke="#ff0000" stroke-width="10.3" stroke-dasharray="41.4 34"/>
<path d="M1656.9 506.1 L1657.1 505.9 L1657.3 505.8 L1657.5 505.6 L1657.7 505.5 L1657.9 505.3 L1658.1 505.2 L1658.3 505.1 L1658.5 504.9 L1658.7 504.8 L1658.9 504.6 L1659.1 504.5 L1659.3 504.3 L1659.5 504.2 L1659.7 504.0 L1659.9 503.9 L1660.1 503.8 L1660.3 503.6 L1660.5 503.5 L1660.7 503.3 L1660.9 503.2 L1661.1 503.0 L1661.3 502.9 L1661.5 502.7 L1661.7 502.6 L1661.9 502.4 L1662.1 502.3 L1662.3 502.1 L1662.5 502.0 L1662.7 501.9 L1662.9 501.7 L1663.1 501.6 L1663.3 501.4 L1663.5 501.3 L1663.7 501.1 L1663.9 501.0 L1664.1 500.8 L1664.3 500.7 L1664.5 500.5 L1664.7 500.4 L1664.9 500.2 L1665.1 500.1 L1665.3 499.9 L1665.5 499.8 L1665.7 499.6 L1665.9 499.5 L1666.1 499.3 L1666.3 499.1 L1666.5 499.0 L1666.7 498.8 L1666.9 498.7 L1667.1 498.5 L1667.3 498.4 L1667.5 498.2 L1667.7 498.1 L1667.9 497.9 L1668.1 497.8 L1668.3 497.6 L1668.5 497.5 L1668.7 497.3 L1668.9 497.1 L1669.1 497.0 L1669.3 496.8 L1669.5 496.7 L1669.7 496.5 L1669.9 496.4 L1670.1 496.2 L1670.3 496.0 L1670.5 495.9 L1670.7 495.7 L1670.9 495.6 L1671.1 495.4 L1671.3 495.3 L1671.5 495.1 L1671.7 494.9 L1671.9 494.8 L1672.1 494.6 L1672.3 494.5 L1672.5 494.3 L1672.7 494.1 L1672.9 494.0 L1673.1 493.8 L1673.3 493.6 L1673.5 493.5 L1673.7 493.3 L1673.9 493.2 L1674.1 493.0 L1674.3 492.8 L1674.5 492.7 L1674.7 492.5 L1674.9 492.3 L1675.1 492.2 L1675.3 492.0 L1675.5 491.8 L1675.7 491.7 L1675.9 491.5 L1676.1 491.4 L1676.3 491.2 L1676.5 491.0 L1676.7 490.9 L1676.9 490.7 L1677.1 490.5 L1677.3 490.3 L1677.5 490.2 L1677.7 490.0 L1677.9 489.8 L1678.1 489.7 L1678.3 489.5 L1678.5 489.3 L1678.7 489.2 L1678.9 489.0 L1679.1 488.8 L1679.3 488.6 L1679.5 488.5 L1679.7 488.3 L1679.9 488.1 L1680.1 488.0 L1680.3 487.8 L1680.5 487.6 L1680.7 487.4 L1680.9 487.3 L1681.1 487.1 L1681.3 486.9 L1681.5 486.7 L1681.7 486.6 L1681.9 486.4 L1682.1 486.2 L1682.3 486.0 L1682.5 485.9 L1682.7 485.7 L1682.9 485.5 L1683.1 485.3 L1683.3 485.1 L1683.5 485.0 L1683.7 484.8 L1683.9 484.6 L1684.1 484.4 L1684.3 484.2 L1684.5 484.1 L1684.7 483.9 L1684.9 483.7 L1685.1 483.5 L1685.3 483.3 L1685.5 483.2 L1685.7 483.0 L1685.9 482.8 L1686.1 482.6 L1686.3 482.4 L1686.5 482.2 L1686.7 482.0 L1686.9 481.9 L1687.1 481.7 M1710.5 456.0 L1710.7 455.8 L1710.9 455.5 L1711.1 455.2 L1711.3 455.0 L1711.5 454.7 L1711.7 454.4 L1711.9 454.2 L1712.1 453.9 L1712.3 453.6 L1712.5 453.3 L1712.7 453.1 L1712.9 452.8 L1713.1 452.5 L1713.3 452.2 L1713.5 452.0 L1713.7 451.7 L1713.9 451.4 L1714.1 451.1 L1714.3 450.9 L1714.5 450.6 L1714.7 450.3 L1714.9 450.0 L1715.1 449.7 L1715.3 449.4 L1715.5 449.1 L1715.7 448.9 L1715.9 448.6 L1716.1 448.3 L1716.3 448.0 L1716.5 447.7 L1716.7 447.4 L1716.9 447.1 L1717.1 446.8 L1717.3 446.5 L1717.5 446.2 L1717.7 445.9 L1717.9 445.6 L1718.1 445.3 L1718.3 445.0 L1718.5 444.7 L1718.7 444.4 L1718.9 444.1 L1719.1 443.7 L1719.3 443.4 L1719.5 443.1 L1719.7 442.8 L1719.9 442.5 L1720.1 442.2 L1720.3 441.9 L1720.5 441.5 L1720.7 441.2 L1720.9 440.9 L1721.1 440.6 L1721.3 440.2 L1721.5 439.9 L1721.7 439.6 L1721.9 439.2 L1722.1 438.9 L1722.3 438.6 L1722.5 438.2 L1722.7 437.9 L1722.9 437.6 L1723.1 437.2 L1723.3 436.9 L1723.5 436.5 L1723.7 436.2 L1723.9 435.8 L1724.1 435.5 L1724.3 435.1 L1724.5 434.8 L1724.7 434.4 L1724.9 434.1 L1725.1 433.7 L1725.3 433.3 L1725.5 433.0 L1725.7 432.6 L1725.9 432.2 L1726.1 431.9 L1726.3 431.5 L1726.5 431.1 L1726.7 430.8 L1726.9 430.4 L1727.1 430.0 L1727.3 429.6 L1727.5 429.2 L1727.7 428.8 L1727.9 428.5 L1728.1 428.1 L1728.3 427.7 L1728.5 427.3 L1728.7 426.9 L1728.9 426.5 L1729.1 426.1 L1729.3 425.7 L1729.5 425.3 L1729.7 424.9 L1729.9 424.4 L1730.1 424.0 L1730.3 423.6 L1730.5 423.2 L1730.6 423.0 M1743.0 389.6 L1743.2 389.4 L1743.4 389.1 L1743.6 388.8 L1743.8 388.5 L1744.0 388.1 L1744.2 387.6 L1744.4 387.2 L1744.6 386.7 L1744.8 386.1 L1745.0 385.6 L1745.2 385.0 L1745.4 384.3 L1745.6 383.6 L1745.8 382.9 L1746.0 382.2 L1746.2 381.4 L1746.4 380.6 L1746.6 379.8 L1746.8 379.0 L1747.0 378.1 L1747.2 377.2 L1747.4 376.3 L1747.6 375.3 L1747.8 374.3 L1748.0 373.4 L1748.2 372.3 L1748.4 371.3 L1748.6 370.3 L1748.8 369.2 L1749.0 368.1 L1749.2 367.0 L1749.4 365.9 L1749.6 364.8 L1749.8 363.6 L1750.0 362.5 L1750.2 361.3 L1750.4 360.2 L1750.6 359.0 L1750.8 357.8 L1751.0 356.6 L1751.2 355.4 L1751.4 354.2 L1751.6 353.0 L1751.7 352.1 L1751.9 350.7 L1752.0 350.3 M1756.0 313.0 L1756.2 311.7 L1756.4 310.4 L1756.6 309.1 L1756.8 307.9 L1757.0 306.7 L1757.2 305.5 L1757.4 304.4 L1757.6 303.2 L1757.8 302.1 L1758.0 300.9 L1758.2 299.8 L1758.4 298.6 L1758.6 297.4 L1758.8 296.2 L1759.0 295.0 L1759.2 294.0 L1759.4 292.6 L1759.6 291.0 L1759.8 289.2 L1760.0 287.4 L1760.2 285.6 L1760.4 283.9 L1760.6 282.3 L1760.8 281.0 L1761.0 279.9 L1761.2 279.2 L1761.4 279.0 L1761.5 279.1 L1761.7 279.4 L1761.9 279.8 L1762.1 280.5 L1762.3 281.4 L1762.5 282.3 L1762.7 283.4 L1762.9 284.6 L1763.1 285.9 L1763.3 287.2 L1763.5 288.5 L1763.7 289.9 L1763.9 291.2 L1764.1 292.5 L1764.3 293.7 L1764.5 294.6 L1764.7 295.8 L1764.9 296.9 L1765.1 298.1 L1765.3 299.4 L1765.5 300.6 L1765.7 301.9 L1765.9 303.1 L1766.1 304.5 L1766.3 305.8 L1766.5 307.2 L1766.7 308.6 L1766.9 310.1 L1767.1 311.6 L1767.3 313.2 L1767.5 314.8 L1767.7 316.5 L1767.9 318.3 L1768.1 320.1 M1771.1 358.8 L1771.3 360.3 L1771.5 361.8 L1771.7 363.2 L1771.9 364.5 L1772.1 365.9 L1772.3 367.1 L1772.5 368.4 L1772.7 369.6 L1772.9 370.8 L1773.1 371.9 L1773.3 373.0 L1773.5 374.1 L1773.7 375.1 L1773.9 376.1 L1774.1 377.1 L1774.3 378.0 L1774.5 379.0 L1774.7 379.9 L1774.9 380.8 L1775.1 381.6 L1775.3 382.5 L1775.5 383.3 L1775.7 384.2 L1775.9 385.0 L1776.1 385.8 L1776.3 386.6 L1776.5 387.4 L1776.7 388.2 L1776.9 389.0 L1777.1 389.8 L1777.3 390.6 L1777.5 391.4 L1777.7 392.2 L1777.9 393.0 L1778.0 393.6 L1778.2 394.4 L1778.3 394.6 M1791.0 431.4 L1791.2 431.9 L1791.4 432.3 L1791.6 432.7 L1791.8 433.2 L1792.0 433.6 L1792.2 434.0 L1792.4 434.5 L1792.6 434.9 L1792.7 435.2 L1792.9 435.6 L1793.1 436.1 L1793.3 436.5 L1793.5 436.9 L1793.7 437.3 L1793.9 437.8 L1794.1 438.2 L1794.3 438.6 L1794.5 439.0 L1794.7 439.4 L1794.9 439.8 L1795.1 440.2 L1795.3 440.6 L1795.5 441.0 L1795.7 441.4 L1795.9 441.8 L1796.1 442.2 L1796.3 442.6 L1796.5 443.0 L1796.7 443.4 L1796.9 443.8 L1797.1 444.2 L1797.3 444.6 L1797.5 445.0 L1797.7 445.4 L1797.9 445.8 L1798.1 446.2 L1798.3 446.6 L1798.5 447.0 L1798.7 447.3 L1798.9 447.7 L1799.1 448.1 L1799.3 448.5 L1799.5 448.9 L1799.7 449.2 L1799.9 449.6 L1800.1 450.0 L1800.3 450.4 L1800.5 450.7 L1800.7 451.1 L1800.9 451.5 L1801.1 451.9 L1801.3 452.2 L1801.5 452.6 L1801.7 453.0 L1801.9 453.3 L1802.1 453.7 L1802.3 454.0 L1802.5 454.4 L1802.7 454.8 L1802.9 455.1 L1803.1 455.5 L1803.3 455.8 L1803.5 456.2 L1803.7 456.5 L1803.9 456.9 L1804.1 457.2 L1804.3 457.6 L1804.5 457.9 L1804.7 458.3 L1804.9 458.6 L1805.1 459.0 L1805.3 459.3 L1805.5 459.7 L1805.7 460.0 L1805.9 460.4 L1806.1 460.7 L1806.3 461.0 L1806.5 461.4 L1806.7 461.7 L1806.9 462.0 L1807.1 462.4 L1807.3 462.7 L1807.5 463.0 L1807.7 463.3 L1807.9 463.6 L1808.1 464.0 L1808.3 464.3 L1808.5 464.6 L1808.7 464.9 L1808.9 465.2 L1809.0 465.5 M1829.5 497.0 L1829.7 497.4 L1829.9 497.7 L1830.1 498.0 L1830.3 498.3 L1830.5 498.6 L1830.7 498.9 L1830.9 499.2 L1831.1 499.5 L1831.3 499.9 L1831.5 500.2 L1831.7 500.5 L1831.9 500.8 L1832.1 501.1 L1832.3 501.4 L1832.4 501.6 L1832.6 501.9 L1832.8 502.2 L1833.0 502.4 L1833.2 502.7 L1833.4 503.0 L1833.6 503.3 L1833.8 503.6 L1834.0 503.9 L1834.2 504.2 L1834.4 504.4 L1834.6 504.7 L1834.8 505.0 L1835.0 505.3 L1835.2 505.5 L1835.4 505.8 L1835.6 506.1 L1835.8 506.4 L1836.0 506.6 L1836.2 506.9 L1836.4 507.2 L1836.6 507.4 L1836.8 507.7 L1837.0 508.0 L1837.2 508.2 L1837.4 508.5 L1837.6 508.8 L1837.8 509.0 L1838.0 509.3 L1838.2 509.5 L1838.4 509.8 L1838.6 510.1 L1838.8 510.3 L1839.0 510.6 L1839.2 510.8 L1839.4 511.1 L1839.6 511.4 L1839.8 511.6 L1840.0 511.9 L1840.2 512.1 L1840.4 512.4 L1840.6 512.6 L1840.8 512.9 L1841.0 513.2 L1841.2 513.4 L1841.4 513.7 L1841.6 513.9 L1841.8 514.2 L1842.0 514.4 L1842.2 514.7 L1842.4 514.9 L1842.6 515.2 L1842.8 515.5 L1843.0 515.7 L1843.2 516.0 L1843.4 516.2 L1843.6 516.5 L1843.8 516.7 L1844.0 517.0 L1844.2 517.3 L1844.4 517.5 L1844.6 517.8 L1844.8 518.0 L1845.0 518.3 L1845.2 518.6 L1845.4 518.8 L1845.6 519.1 L1845.8 519.3 L1846.0 519.6 L1846.2 519.9 L1846.4 520.1 L1846.6 520.4 L1846.8 520.7 L1847.0 520.9 L1847.2 521.2 L1847.4 521.5 L1847.6 521.8 L1847.8 522.0 L1848.0 522.3 L1848.2 522.6 L1848.4 522.9 L1848.6 523.1 L1848.8 523.4 L1849.0 523.7 L1849.2 524.0 L1849.4 524.3 L1849.6 524.5 L1849.8 524.8 L1850.0 525.1 L1850.2 525.4 L1850.4 525.7 L1850.6 526.0 L1850.8 526.3 L1851.0 526.6 L1851.2 526.9 L1851.4 527.2 L1851.6 527.5 L1851.8 527.8 L1852.0 528.0 L1852.2 528.3 L1852.4 528.6 L1852.6 528.9 L1852.8 529.2 L1852.8 529.3 M1869.6 558.9 L1869.8 559.3 L1870.0 559.7 L1870.2 560.2 L1870.4 560.6 L1870.6 561.0 L1870.8 561.5 L1871.0 561.9 L1871.2 562.4 L1871.4 562.8 L1871.6 563.3 L1871.8 563.7 L1872.0 564.2 L1872.2 564.6 L1872.4 565.1 L1872.6 565.5 L1872.8 566.0 L1873.0 566.5 L1873.2 566.9 L1873.4 567.4 L1873.6 567.9 L1873.8 568.3 L1874.0 568.8 L1874.2 569.3 L1874.4 569.8 L1874.6 570.3 L1874.8 570.8 L1875.0 571.3 L1875.2 571.8 L1875.4 572.3 L1875.6 572.8 L1875.8 573.3 L1876.0 573.8 L1876.2 574.3 L1876.4 574.8 L1876.6 575.4 L1876.8 575.9 L1877.0 576.4 L1877.2 577.0 L1877.4 577.5 L1877.6 578.0 L1877.8 578.6 L1878.0 579.2 L1878.2 579.7 L1878.4 580.3 L1878.6 580.9 L1878.8 581.4 L1879.0 582.0 L1879.2 582.6 L1879.4 583.2 L1879.6 583.8 L1879.8 584.4 L1880.0 585.0 L1880.2 585.6 L1880.4 586.2 L1880.6 586.8 L1880.8 587.5 L1881.0 588.1 L1881.2 588.7 L1881.4 589.4 L1881.6 590.0 L1881.8 590.7 L1882.0 591.4 L1882.2 592.0 L1882.4 592.7 L1882.6 593.4 L1882.8 594.1 L1883.0 594.8 L1883.2 595.5 L1883.4 596.2 L1883.6 596.7 L1883.8 597.4 L1883.9 597.8 M1891.1 633.4 L1891.3 634.5 L1891.5 635.7 L1891.7 636.9 L1891.9 638.1 L1892.1 639.3 L1892.3 640.6 L1892.5 641.8 L1892.7 643.1 L1892.9 644.3 L1893.1 645.6 L1893.3 646.9 L1893.5 648.3 L1893.7 649.6 L1893.9 651.0 L1894.1 652.3 L1894.3 653.7 L1894.5 655.1 L1894.7 656.6 L1894.9 658.0 L1895.1 659.5 L1895.3 661.0 L1895.5 662.5 L1895.7 664.1 L1895.9 665.6 L1896.1 667.2 L1896.3 668.8 L1896.5 670.4 L1896.6 671.3 M1899.2 697.0 L1899.3 698.5 L1899.5 700.6 L1899.7 703.0 L1899.9 705.4 L1900.1 707.8 L1900.3 710.0 L1900.5 711.9 L1900.7 713.4 L1900.9 714.3 L1901.1 714.5 L1901.3 714.2 L1901.5 713.2 L1901.7 711.8 L1901.9 709.9 L1902.1 707.7 L1902.3 705.4 L1902.5 702.9 L1902.7 700.5 L1902.9 698.1 L1903.0 697.0 M1906.6 657.4 L1906.7 655.7 L1906.9 653.3 L1907.1 650.9 L1907.3 648.4 L1907.5 645.9 L1907.7 643.3 L1907.9 640.8 L1908.1 638.3 L1908.3 635.8 L1908.5 633.3 L1908.7 630.9 L1908.9 628.6 L1909.1 626.3 L1909.3 624.1 L1909.5 622.1 L1909.7 620.2 M1915.5 579.9 L1915.7 578.9 L1915.9 577.9 L1916.1 577.0 L1916.3 576.0 L1916.5 575.1 L1916.7 574.1 L1916.9 573.2 L1917.1 572.3 L1917.3 571.4 L1917.5 570.6 L1917.7 569.7 L1917.9 568.9 L1918.1 568.0 L1918.3 567.2 L1918.5 566.4 L1918.7 565.6 L1918.9 564.8 L1919.1 564.0 L1919.3 563.2 L1919.5 562.5 L1919.7 561.7 L1919.9 560.9 L1920.1 560.2 L1920.3 559.4 L1920.5 558.6 L1920.7 557.9 L1920.9 557.1 L1921.1 556.4 L1921.3 555.6 L1921.5 554.9 L1921.7 554.2 L1921.9 553.4 L1922.1 552.7 L1922.3 551.9 L1922.5 551.1 L1922.7 550.4 L1922.9 549.6 L1923.1 548.9 L1923.3 548.1 L1923.5 547.3 L1923.7 546.5 L1923.9 545.7 L1924.1 544.9 L1924.2 544.3 M1933.1 508.9 L1933.3 508.2 L1933.5 507.4 L1933.7 506.7 L1933.9 505.9 L1934.1 505.2 L1934.3 504.5 L1934.5 503.8 L1934.7 503.0 L1934.9 502.3 L1935.1 501.6 L1935.3 500.9 L1935.5 500.2 L1935.7 499.5 L1935.9 498.8 L1936.1 498.1 L1936.3 497.5 L1936.5 496.8 L1936.7 496.1 L1936.9 495.4 L1937.1 494.7 L1937.3 494.0 L1937.5 493.3 L1937.7 492.6 L1937.9 492.0 L1938.1 491.3 L1938.3 490.6 L1938.5 489.9 L1938.7 489.2 L1938.9 488.5 L1939.1 487.7 L1939.3 487.0 L1939.5 486.3 L1939.7 485.6 L1939.9 484.9 L1940.1 484.1 L1940.3 483.4 L1940.5 482.6 L1940.7 481.9 L1940.9 481.1 L1941.1 480.4 L1941.3 479.6 L1941.5 478.8 L1941.7 478.0 L1941.9 477.2 L1942.1 476.4 L1942.3 475.5 L1942.5 474.7 L1942.7 473.8 L1942.9 473.0 L1943.1 472.1 L1943.2 471.9 M1950.0 434.9 L1950.1 433.9 L1950.3 432.6 L1950.5 431.2 L1950.7 429.8 L1950.9 428.4 L1951.1 427.0 L1951.3 425.6 L1951.5 424.1 L1951.7 422.6 L1951.9 421.1 L1952.1 419.6 L1952.3 418.0 L1952.5 416.4 L1952.7 414.8 L1952.9 413.2 L1953.1 411.5 L1953.3 409.8 L1953.5 408.1 L1953.7 406.3 L1953.9 404.5 L1954.1 402.7 L1954.3 400.9 L1954.5 399.0 L1954.7 397.1 M1957.6 361.4 L1957.8 359.4 L1958.0 358.0 L1958.2 356.2 L1958.4 354.2 L1958.6 352.3 L1958.8 350.4 L1959.0 348.7 L1959.2 347.2 L1959.4 346.0 L1959.6 345.3 L1959.8 345.0 L1959.9 345.2 L1960.1 345.8 L1960.3 346.9 L1960.5 348.3 L1960.7 350.0 L1960.9 351.8 L1961.1 353.8 L1961.3 355.7 L1961.5 357.6 L1961.7 358.9 L1961.9 360.9 L1961.9 361.4 M1965.1 398.0 L1965.3 399.6 L1965.5 401.2 L1965.7 402.7 L1965.9 404.2 L1966.1 405.6 L1966.3 407.0 L1966.5 408.4 L1966.7 409.8 L1966.9 411.1 L1967.1 412.4 L1967.3 413.7 L1967.5 414.9 L1967.7 416.1 L1967.9 417.3 L1968.1 418.5 L1968.3 419.6 L1968.5 420.8 L1968.7 421.9 L1968.9 423.0 L1969.1 424.0 L1969.3 425.1 L1969.5 426.1 L1969.7 427.2 L1969.9 428.2 L1970.1 429.2 L1970.3 430.1 L1970.5 431.1 L1970.7 432.1 L1970.9 433.0 L1971.1 434.0 L1971.3 434.9 L1971.4 435.6 L1971.6 436.5 L1971.7 437.0 M1981.1 471.1 L1981.3 471.7 L1981.5 472.3 L1981.7 472.8 L1981.9 473.3 L1982.1 473.9 L1982.3 474.4 L1982.5 475.0 L1982.7 475.5 L1982.9 476.0 L1983.1 476.5 L1983.3 477.0 L1983.5 477.6 L1983.7 478.1 L1983.9 478.6 L1984.1 479.1 L1984.3 479.6 L1984.5 480.1 L1984.7 480.5 L1984.9 481.0 L1985.1 481.5 L1985.3 482.0 L1985.5 482.5 L1985.7 482.9 L1985.9 483.4 L1986.1 483.9 L1986.3 484.3 L1986.5 484.8 L1986.7 485.2 L1986.9 485.7 L1987.1 486.1 L1987.3 486.6 L1987.5 487.0 L1987.7 487.5 L1987.9 487.9 L1988.1 488.3 L1988.3 488.8 L1988.5 489.2 L1988.7 489.6 L1988.9 490.1 L1989.1 490.5 L1989.3 490.9 L1989.5 491.3 L1989.7 491.7 L1989.9 492.2 L1990.1 492.6 L1990.3 493.0 L1990.5 493.4 L1990.7 493.8 L1990.9 494.2 L1991.1 494.6 L1991.3 495.0 L1991.5 495.4 L1991.7 495.8 L1991.9 496.2 L1992.1 496.6 L1992.3 497.0 L1992.5 497.4 L1992.7 497.8 L1992.9 498.2 L1993.1 498.6 L1993.3 499.0 L1993.5 499.3 L1993.7 499.7 L1993.9 500.1 L1994.1 500.5 L1994.3 500.9 L1994.5 501.3 L1994.7 501.7 L1994.9 502.0 L1995.1 502.4 L1995.3 502.8 L1995.5 503.2 L1995.7 503.6 L1995.9 504.0 L1996.1 504.3 L1996.3 504.7 L1996.5 505.0 L1996.7 505.4 L1996.9 505.8 L1997.1 506.1 L1997.3 506.5 L1997.5 506.9 L1997.7 507.2 L1997.9 507.6 L1997.9 507.7 M2016.4 538.0 L2016.6 538.4 L2016.8 538.7 L2017.0 539.1 L2017.2 539.4 L2017.4 539.8 L2017.6 540.2 L2017.8 540.6 L2018.0 540.9 L2018.2 541.3 L2018.4 541.6 L2018.6 542.0 L2018.8 542.4 L2019.0 542.7 L2019.2 543.1 L2019.4 543.4 L2019.6 543.8 L2019.8 544.1 L2020.0 544.5 L2020.2 544.8 L2020.4 545.2 L2020.6 545.5 L2020.8 545.9 L2021.0 546.2 L2021.2 546.6 L2021.4 546.9 L2021.6 547.3 L2021.8 547.7 L2022.0 548.0 L2022.2 548.4 L2022.4 548.7 L2022.6 549.1 L2022.8 549.4 L2023.0 549.8 L2023.2 550.2 L2023.4 550.5 L2023.6 550.9 L2023.8 551.3 L2024.0 551.6 L2024.2 552.0 L2024.4 552.4 L2024.6 552.8 L2024.8 553.1 L2025.0 553.5 L2025.2 553.9 L2025.4 554.3 L2025.6 554.7 L2025.8 555.1 L2026.0 555.5 L2026.2 555.9 L2026.4 556.3 L2026.6 556.7 L2026.8 557.1 L2027.0 557.5 L2027.2 557.9 L2027.4 558.4 L2027.6 558.8 L2027.8 559.2 L2028.0 559.7 L2028.2 560.1 L2028.4 560.5 L2028.6 561.0 L2028.8 561.5 L2029.0 561.9 L2029.2 562.4 L2029.4 562.9 L2029.6 563.3 L2029.8 563.8 L2030.0 564.3 L2030.2 564.8 L2030.4 565.3 L2030.6 565.8 L2030.8 566.3 L2031.0 566.9 L2031.2 567.4 L2031.4 567.9 L2031.6 568.5 L2031.8 569.0 L2032.0 569.6 L2032.2 570.2 L2032.4 570.7 L2032.6 571.3 L2032.8 571.9 L2033.0 572.5 L2033.2 573.1 L2033.4 573.7 L2033.6 574.3 L2033.8 575.0 L2034.0 575.6 L2034.1 576.1 M2041.0 611.5 L2041.2 612.5 L2041.4 613.4 L2041.6 614.4 L2041.8 615.3 L2042.0 616.2 L2042.2 617.1 L2042.4 618.1 L2042.6 619.0 L2042.8 619.9 L2043.0 620.8 L2043.2 621.7 L2043.4 622.6 L2043.6 623.5 L2043.8 624.4 L2044.0 625.3 L2044.2 626.2 L2044.4 627.1 L2044.6 628.0 L2044.8 629.0 L2045.0 629.9 L2045.2 630.9 L2045.4 631.9 L2045.6 632.9 L2045.8 633.9 L2045.9 634.7 L2046.1 635.8 L2046.3 636.9 L2046.5 638.1 L2046.7 639.3 L2046.9 640.5 L2047.1 641.7 L2047.3 642.8 L2047.5 643.9 L2047.7 644.8 L2047.9 645.4 L2048.1 646.3 L2048.3 647.2 L2048.5 648.1 L2048.7 648.8 L2048.9 649.4 L2049.1 649.9 L2049.3 650.0 L2049.4 649.9 L2049.6 649.5 L2049.8 648.8 L2050.0 648.0 L2050.2 646.9 L2050.4 645.9 L2050.6 644.7 L2050.8 643.6 L2051.0 642.6 L2051.2 642.0 L2051.4 641.2 L2051.6 640.5 L2051.8 639.7 L2052.0 639.0 L2052.2 638.3 L2052.4 637.7 L2052.6 637.0 L2052.8 636.3 L2053.0 635.6 L2053.2 634.8 L2053.4 634.1 L2053.6 633.3 L2053.8 632.4 L2054.0 631.6 L2054.1 630.9 L2054.3 629.9 L2054.5 629.0 L2054.7 628.0 L2054.9 627.0 L2055.1 625.9 L2055.3 624.9 L2055.5 623.8 L2055.7 622.7 L2055.9 621.5 L2056.1 620.3 L2056.3 619.0 L2056.5 617.7 L2056.7 616.4 L2056.9 615.0 L2057.1 613.6 L2057.3 612.0 L2057.5 610.5 L2057.7 608.8 L2057.9 607.1 L2058.1 605.4 L2058.2 604.9 M2060.6 569.6 L2060.8 567.6 L2061.0 565.0 L2061.2 562.5 L2061.4 559.9 L2061.6 557.4 L2061.8 554.9 L2062.0 552.4 L2062.2 550.0 L2062.4 547.6 L2062.6 545.3 L2062.8 543.0 L2063.0 540.7 L2063.2 538.5 L2063.4 536.4 L2063.6 534.4 L2063.8 532.4 L2064.0 530.5 L2064.0 530.0 M2068.7 494.4 L2068.9 492.6 L2069.1 490.7 L2069.3 488.9 L2069.5 487.0 L2069.7 485.1 L2069.9 483.2 L2070.1 481.3 L2070.3 479.3 L2070.5 477.3 L2070.7 475.3 L2070.9 473.2 L2071.1 471.1 L2071.3 469.0 L2071.5 466.9 L2071.7 464.7 L2071.9 462.5 L2072.1 460.3 L2072.3 458.1 L2072.5 455.8 L2072.6 454.7 M2075.3 421.8 L2075.5 420.4 L2075.7 419.0 L2075.9 417.7 L2076.1 416.5 L2076.3 415.5 L2076.5 414.6 L2076.7 413.9 L2076.9 413.4 L2077.1 413.1 L2077.3 413.0 L2077.5 413.1 L2077.7 413.2 L2077.9 413.5 L2078.1 413.9 L2078.3 414.3 L2078.5 414.9 L2078.7 415.5 L2078.9 416.2 L2079.1 416.9 L2079.3 417.7 L2079.5 418.6 L2079.7 419.4 L2079.9 420.3 L2080.1 421.2 L2080.3 422.2 L2080.5 423.1 L2080.7 424.0 L2080.8 424.7 L2081.0 425.8 L2081.2 427.1 L2081.4 428.5 L2081.6 429.9 L2081.8 431.5 L2082.0 433.1 L2082.2 434.8 L2082.4 436.5 L2082.6 438.1 L2082.8 439.8 L2083.0 441.5 L2083.2 443.1 L2083.3 443.5 M2088.9 477.5 L2089.1 478.3 L2089.3 479.0 L2089.5 479.8 L2089.7 480.5 L2089.9 481.3 L2090.1 482.0 L2090.3 482.7 L2090.5 483.4 L2090.7 484.0 L2090.9 484.7 L2091.1 485.3 L2091.3 486.0 L2091.5 486.6 L2091.7 487.2 L2091.9 487.8 L2092.1 488.4 L2092.3 489.0 L2092.5 489.5 L2092.7 490.1 L2092.9 490.6 L2093.1 491.2 L2093.3 491.7 L2093.5 492.2 L2093.7 492.8 L2093.9 493.3 L2094.1 493.8 L2094.3 494.3 L2094.5 494.8 L2094.7 495.3 L2094.9 495.8 L2095.0 496.1 L2095.2 496.6 L2095.4 497.1 L2095.6 497.5 L2095.8 498.0 L2096.0 498.5 L2096.2 498.9 L2096.4 499.4 L2096.6 499.8 L2096.8 500.3 L2097.0 500.7 L2097.2 501.1 L2097.4 501.6 L2097.6 502.0 L2097.8 502.4 L2098.0 502.8 L2098.2 503.2 L2098.4 503.6 L2098.6 504.0 L2098.8 504.4 L2099.0 504.8 L2099.2 505.2 L2099.4 505.6 L2099.6 506.0 L2099.8 506.4 L2100.0 506.8 L2100.2 507.1 L2100.4 507.5 L2100.6 507.9 L2100.8 508.2 L2101.0 508.6 L2101.2 508.9 L2101.4 509.3 L2101.6 509.6 L2101.8 510.0 L2102.0 510.3 L2102.2 510.7 L2102.4 511.0 L2102.6 511.3 L2102.8 511.7 L2103.0 512.0 L2103.2 512.3 L2103.4 512.6 L2103.6 512.9 L2103.8 513.3 L2104.0 513.6 L2104.2 513.9 L2104.4 514.2 L2104.6 514.5 L2104.8 514.8 L2105.0 515.0 L2105.2 515.3 L2105.4 515.6 L2105.6 515.9 L2105.8 516.2 L2105.9 516.4 M2128.1 541.6 L2128.3 541.7 L2128.5 541.9 L2128.7 542.1 L2128.9 542.2 L2129.1 542.4 L2129.3 542.6 L2129.5 542.8 L2129.7 542.9 L2129.9 543.1 L2130.1 543.3 L2130.3 543.5 L2130.5 543.6 L2130.7 543.8 L2130.9 544.0 L2131.1 544.2 L2131.3 544.3 L2131.5 544.5 L2131.7 544.7 L2131.9 544.8 L2132.1 545.0 L2132.3 545.2 L2132.5 545.4 L2132.7 545.5 L2132.9 545.7 L2133.1 545.9 L2133.3 546.0 L2133.5 546.2 L2133.7 546.3 L2133.9 546.5 L2134.1 546.7 L2134.3 546.8 L2134.5 547.0 L2134.7 547.2 L2134.9 547.3 L2135.1 547.5 L2135.3 547.6 L2135.5 547.8 L2135.7 548.0 L2135.9 548.1 L2136.1 548.3 L2136.3 548.4 L2136.5 548.6 L2136.7 548.7 L2136.9 548.9 L2137.1 549.1 L2137.3 549.2 L2137.5 549.4 L2137.7 549.5 L2137.9 549.7 L2138.1 549.8 L2138.3 550.0 L2138.5 550.1 L2138.7 550.3 L2138.9 550.4 L2139.1 550.6 L2139.3 550.7 L2139.5 550.9 L2139.7 551.0 L2139.9 551.2 L2140.1 551.3 L2140.3 551.5 L2140.5 551.6 L2140.7 551.8 L2140.9 551.9 L2141.1 552.1 L2141.3 552.2 L2141.5 552.4 L2141.7 552.5 L2141.9 552.7 L2142.1 552.8 L2142.3 553.0 L2142.5 553.1 L2142.7 553.2 L2142.9 553.4 L2143.1 553.5 L2143.3 553.7 L2143.5 553.8 L2143.7 554.0 L2143.9 554.1 L2144.1 554.2 L2144.3 554.4 L2144.5 554.5 L2144.7 554.7 L2144.9 554.8 L2145.1 554.9 L2145.3 555.1 L2145.5 555.2 L2145.7 555.4 L2145.9 555.5 L2146.1 555.6 L2146.3 555.8 L2146.5 555.9 L2146.7 556.1 L2146.9 556.2 L2147.1 556.3 L2147.3 556.5 L2147.5 556.6 L2147.7 556.7 L2147.9 556.9 L2148.1 557.0 L2148.3 557.2 L2148.5 557.3 L2148.7 557.4 L2148.9 557.6 L2149.1 557.7 L2149.3 557.8 L2149.5 558.0 L2149.7 558.1 L2149.9 558.2 L2150.1 558.4 L2150.3 558.5 L2150.5 558.6 L2150.7 558.8 L2150.9 558.9 L2151.1 559.0 L2151.3 559.2 L2151.5 559.3 L2151.7 559.4 L2151.9 559.6 L2152.1 559.7 L2152.3 559.8 L2152.5 560.0 L2152.7 560.1 L2152.9 560.2 L2153.1 560.4 L2153.3 560.5 L2153.5 560.6 L2153.7 560.8 L2153.9 560.9 L2154.1 561.0 L2154.3 561.2 L2154.5 561.3 L2154.7 561.4 L2154.9 561.6 L2155.1 561.7 L2155.3 561.8 L2155.5 562.0 L2155.7 562.1 L2155.9 562.2 L2156.1 562.4 L2156.3 562.5 L2156.5 562.6 L2156.7 562.8 L2156.9 562.9 L2157.1 563.0 L2157.3 563.2 L2157.5 563.3 L2157.7 563.4 L2157.9 563.5 L2158.1 563.7 L2158.3 563.8 L2158.5 563.9 L2158.7 564.1 L2158.9 564.2 L2159.1 564.3 L2159.3 564.5 L2159.5 564.6 L2159.7 564.7 L2159.9 564.9 L2160.1 565.0 L2160.3 565.1 L2160.5 565.3 L2160.7 565.4 L2160.9 565.5 L2161.0 565.6 L2161.2 565.8 L2161.4 565.9 L2161.6 566.0 L2161.8 566.2 L2162.0 566.3 L2162.2 566.4 M2190.1 583.4 L2190.3 583.5 L2190.5 583.6 L2190.7 583.7 L2190.9 583.8 L2191.1 584.0 L2191.3 584.1 L2191.5 584.2 L2191.7 584.3 L2191.9 584.5 L2192.1 584.6 L2192.3 584.7 L2192.5 584.8 L2192.7 584.9 L2192.9 585.1 L2193.1 585.2 L2193.3 585.3 L2193.5 585.4 L2193.7 585.6 L2193.9 585.7 L2194.1 585.8 L2194.3 585.9 L2194.5 586.1 L2194.7 586.2 L2194.9 586.3 L2195.1 586.4 L2195.3 586.5 L2195.5 586.7 L2195.7 586.8 L2195.9 586.9 L2196.1 587.0 L2196.3 587.2 L2196.5 587.3 L2196.7 587.4 L2196.9 587.5 L2197.1 587.7 L2197.3 587.8 L2197.5 587.9 L2197.7 588.0 L2197.9 588.2 L2198.1 588.3 L2198.3 588.4 L2198.5 588.5 L2198.7 588.7 L2198.9 588.8 L2199.1 588.9 L2199.3 589.0 L2199.5 589.1 L2199.7 589.3 L2199.9 589.4 L2200.1 589.5 L2200.3 589.6 L2200.5 589.8 L2200.7 589.9 L2200.9 590.0 L2201.1 590.1 L2201.3 590.3 L2201.5 590.4 L2201.7 590.5 L2201.9 590.6 L2202.1 590.8 L2202.3 590.9 L2202.5 591.0 L2202.7 591.1 L2202.9 591.3 L2203.1 591.4 L2203.3 591.5 L2203.5 591.6 L2203.7 591.7 L2203.9 591.9 L2204.1 592.0 L2204.3 592.1 L2204.5 592.2 L2204.7 592.4 L2204.9 592.5 L2205.1 592.6 L2205.3 592.7 L2205.5 592.9 L2205.7 593.0 L2205.9 593.1 L2206.1 593.2 L2206.3 593.4 L2206.5 593.5 L2206.7 593.6 L2206.9 593.7 L2207.1 593.9 L2207.3 594.0 L2207.5 594.1 L2207.7 594.2 L2207.9 594.3 L2208.1 594.5 L2208.3 594.6 L2208.5 594.7 L2208.7 594.8 L2208.9 595.0 L2209.1 595.1 L2209.3 595.2 L2209.5 595.3 L2209.7 595.5 L2209.9 595.6 L2210.1 595.7 L2210.3 595.8 L2210.5 596.0 L2210.7 596.1 L2210.9 596.2 L2211.1 596.3 L2211.3 596.4 L2211.5 596.6 L2211.7 596.7 L2211.9 596.8 L2212.1 596.9 L2212.3 597.1 L2212.5 597.2 L2212.7 597.3 L2212.9 597.4 L2213.1 597.6 L2213.3 597.7 L2213.5 597.8 L2213.7 597.9 L2213.9 598.0 L2214.1 598.2 L2214.3 598.3 L2214.5 598.4 L2214.7 598.5 L2214.9 598.7 L2215.1 598.8 L2215.3 598.9 L2215.5 599.0 L2215.7 599.2 L2215.9 599.3 L2216.1 599.4 L2216.3 599.5 L2216.5 599.6 L2216.7 599.8 L2216.9 599.9 L2217.1 600.0 L2217.3 600.1 L2217.5 600.3 L2217.7 600.4 L2217.9 600.5 L2218.1 600.6 L2218.3 600.7 L2218.5 600.9 L2218.7 601.0 L2218.9 601.1 L2219.1 601.2 L2219.3 601.3 L2219.5 601.5 L2219.7 601.6 L2219.9 601.7 L2220.1 601.8 L2220.3 602.0 L2220.5 602.1 L2220.7 602.2 L2220.9 602.3 L2221.1 602.4 L2221.3 602.6 L2221.5 602.7 L2221.7 602.8 L2221.9 602.9 L2222.1 603.0 L2222.3 603.2 L2222.5 603.3 L2222.7 603.4 L2222.9 603.5 L2223.1 603.6 L2223.3 603.8 L2223.5 603.9 L2223.7 604.0 L2223.9 604.1 L2224.1 604.2 L2224.3 604.4 L2224.5 604.5 L2224.7 604.6 L2224.9 604.7 L2225.1 604.8 L2225.2 604.9 L2225.4 605.0 L2225.6 605.2 L2225.8 605.3 L2226.0 605.4 L2226.2 605.5 L2226.4 605.6 L2226.6 605.7 M2255.2 622.3 L2255.4 622.4 L2255.6 622.5 L2255.8 622.7 L2256.0 622.8 L2256.2 622.9 L2256.4 623.0 L2256.6 623.1 L2256.8 623.3 L2257.0 623.4 L2257.2 623.5 L2257.4 623.6 L2257.6 623.8 L2257.8 623.9 L2258.0 624.0 L2258.2 624.2 L2258.4 624.3 L2258.6 624.4 L2258.8 624.5 L2259.0 624.7 L2259.2 624.8 L2259.4 624.9 L2259.6 625.0 L2259.8 625.2 L2260.0 625.3 L2260.2 625.4 L2260.4 625.6 L2260.6 625.7 L2260.8 625.8 L2261.0 625.9 L2261.2 626.1 L2261.4 626.2 L2261.6 626.3 L2261.8 626.5 L2262.0 626.6 L2262.2 626.7 L2262.4 626.9 L2262.6 627.0 L2262.8 627.1 L2263.0 627.2 L2263.2 627.4 L2263.4 627.5 L2263.6 627.6 L2263.8 627.8 L2264.0 627.9 L2264.2 628.0 L2264.4 628.2 L2264.6 628.3 L2264.8 628.4 L2265.0 628.6 L2265.2 628.7 L2265.4 628.8 L2265.6 629.0 L2265.8 629.1 L2266.0 629.2 L2266.2 629.3 L2266.4 629.5 L2266.6 629.6 L2266.8 629.7 L2267.0 629.9 L2267.2 630.0 L2267.4 630.1 L2267.6 630.3 L2267.8 630.4 L2268.0 630.5 L2268.2 630.7 L2268.4 630.8 L2268.6 630.9 L2268.8 631.1 L2269.0 631.2 L2269.2 631.4 L2269.4 631.5 L2269.6 631.6 L2269.8 631.8 L2270.0 631.9 L2270.2 632.0 L2270.4 632.2 L2270.6 632.3 L2270.8 632.4 L2271.0 632.6 L2271.2 632.7 L2271.4 632.9 L2271.6 633.0 L2271.8 633.1 L2272.0 633.3 L2272.2 633.4 L2272.4 633.5 L2272.6 633.7 L2272.8 633.8 L2273.0 634.0 L2273.2 634.1 L2273.4 634.2 L2273.6 634.4 L2273.8 634.5 L2274.0 634.7 L2274.2 634.8 L2274.4 634.9 L2274.6 635.1 L2274.8 635.2 L2275.0 635.4 L2275.2 635.5 L2275.4 635.6 L2275.6 635.8 L2275.8 635.9 L2276.0 636.1 L2276.2 636.2 L2276.4 636.4 L2276.6 636.5 L2276.8 636.7 L2277.0 636.8 L2277.2 636.9 L2277.4 637.1 L2277.6 637.2 L2277.8 637.4 L2278.0 637.5 L2278.2 637.7 L2278.4 637.8 L2278.6 638.0 L2278.8 638.1 L2279.0 638.3 L2279.2 638.4 L2279.4 638.6 L2279.6 638.7 L2279.8 638.9 L2280.0 639.0 L2280.2 639.1 L2280.4 639.3 L2280.6 639.4 L2280.8 639.6 L2281.0 639.7 L2281.2 639.9 L2281.4 640.1 L2281.6 640.2 L2281.8 640.4 L2282.0 640.5 L2282.2 640.7 L2282.4 640.8 L2282.6 641.0 L2282.8 641.1 L2283.0 641.3 L2283.2 641.4 L2283.4 641.6 L2283.6 641.7 L2283.8 641.9 L2284.0 642.1 L2284.2 642.2 L2284.4 642.4 L2284.6 642.5 L2284.8 642.7 L2285.0 642.8 L2285.2 643.0 L2285.4 643.2 L2285.6 643.3 L2285.8 643.5 L2286.0 643.6 L2286.2 643.8 L2286.4 644.0 L2286.6 644.1 L2286.8 644.3 L2287.0 644.4 L2287.2 644.6 L2287.4 644.8 L2287.6 644.9 L2287.8 645.1 L2288.0 645.3 L2288.2 645.4 L2288.4 645.6 L2288.6 645.8 L2288.8 645.9 L2289.0 646.1 L2289.2 646.2 L2289.4 646.4 L2289.5 646.5 L2289.7 646.7 L2289.9 646.9 L2290.1 647.0 L2290.3 647.2 M2314.0 671.0 L2314.1 671.2 L2314.3 671.4 L2314.5 671.7 L2314.7 672.0 L2314.9 672.2 L2315.1 672.5 L2315.3 672.7 L2315.5 673.0 L2315.7 673.3 L2315.9 673.6 L2316.1 673.8 L2316.3 674.1 L2316.5 674.4 L2316.7 674.7 L2316.9 674.9 L2317.1 675.2 L2317.3 675.5 L2317.5 675.8 L2317.7 676.1 L2317.9 676.4 L2318.1 676.7 L2318.3 677.0 L2318.5 677.3 L2318.7 677.6 L2318.9 677.9 L2319.1 678.2 L2319.3 678.5 L2319.5 678.8 L2319.7 679.1 L2319.9 679.4 L2320.1 679.7 L2320.3 680.0 L2320.5 680.4 L2320.7 680.7 L2320.9 681.0 L2321.1 681.3 L2321.3 681.6 L2321.5 682.0 L2321.7 682.3 L2321.9 682.6 L2322.1 682.9 L2322.3 683.3 L2322.5 683.6 L2322.7 683.9 L2322.9 684.3 L2323.1 684.6 L2323.3 684.9 L2323.5 685.3 L2323.7 685.6 L2323.9 685.9 L2324.1 686.3 L2324.3 686.6 L2324.5 687.0 L2324.7 687.3 L2324.9 687.6 L2325.1 688.0 L2325.3 688.3 L2325.5 688.7 L2325.7 689.0 L2325.9 689.4 L2326.1 689.7 L2326.3 690.1 L2326.5 690.4 L2326.7 690.8 L2326.9 691.1 L2327.1 691.5 L2327.3 691.8 L2327.5 692.2 L2327.7 692.5 L2327.9 692.9 L2328.1 693.2 L2328.3 693.6 L2328.5 693.9 L2328.7 694.3 L2328.9 694.6 L2329.1 695.0 L2329.3 695.3 L2329.5 695.7 L2329.7 696.1 L2329.9 696.4 L2330.1 696.8 L2330.3 697.1 L2330.5 697.5 L2330.7 697.8 L2330.9 698.2 L2331.1 698.6 L2331.3 698.9 L2331.5 699.3 L2331.7 699.6 L2331.9 700.0 L2332.1 700.3 L2332.3 700.7 L2332.5 701.0 L2332.7 701.4 L2332.9 701.8 L2333.1 702.1 L2333.3 702.5 L2333.5 702.8 L2333.7 703.2 L2333.9 703.5 L2334.1 703.9 L2334.3 704.2 L2334.5 704.5 L2334.7 704.9 L2334.9 705.2 L2335.1 705.6 L2335.3 706.0 L2335.5 706.4 L2335.7 706.8 L2335.9 707.3 L2336.1 707.7 M2347.3 719.7 L2347.5 719.4 L2347.7 718.9 L2347.9 718.5 L2348.1 717.9 L2348.3 717.4 L2348.5 716.8 L2348.7 716.1 L2348.9 715.5 L2349.1 714.8 L2349.3 714.1 L2349.5 713.4 L2349.7 712.8 L2349.9 712.1 L2350.1 711.4 L2350.3 710.8 L2350.5 710.2 L2350.7 709.6 L2350.9 709.1 L2351.1 708.8 L2351.3 708.3 L2351.5 707.8 L2351.7 707.4 L2351.9 706.9 L2352.1 706.5 L2352.3 706.0 L2352.5 705.6 L2352.7 705.2 L2352.9 704.7 L2353.1 704.3 L2353.3 703.9 L2353.5 703.5 L2353.7 703.1 L2353.9 702.6 L2354.1 702.2 L2354.3 701.8 L2354.5 701.3 L2354.7 700.9 L2354.9 700.5 L2355.1 700.0 L2355.3 699.5 L2355.5 699.0 L2355.7 698.6 L2355.9 698.0 L2356.1 697.5 L2356.3 697.0 L2356.5 696.4 L2356.7 695.9 L2356.9 695.3 L2357.0 694.8 L2357.2 694.2 L2357.4 693.6 L2357.6 692.9 L2357.8 692.2 L2358.0 691.5 L2358.2 690.7 L2358.4 690.0 L2358.6 689.2 L2358.8 688.4 L2359.0 687.6 L2359.2 686.7 L2359.4 685.8 L2359.6 685.0 L2359.8 684.1 L2360.0 683.1 L2360.2 682.2 L2360.3 681.7 M2366.4 642.8 L2366.6 642.0 L2366.8 641.0 L2367.0 640.1 L2367.2 639.2 L2367.4 638.3 L2367.6 637.5 L2367.8 636.7 L2368.0 635.9 L2368.2 635.1 L2368.4 634.4 L2368.6 633.6 L2368.8 632.9 L2369.0 632.2 L2369.2 631.6 L2369.4 630.9 L2369.6 630.3 L2369.8 629.6 L2370.0 629.0 L2370.1 628.5 L2370.3 627.9 L2370.5 627.3 L2370.7 626.7 L2370.9 626.1 L2371.1 625.5 L2371.3 625.0 L2371.5 624.4 L2371.7 623.8 L2371.9 623.2 L2372.1 622.7 L2372.3 622.1 L2372.5 621.6 L2372.7 621.1 L2372.9 620.6 L2373.1 620.0 L2373.3 619.5 L2373.5 619.1 L2373.7 618.7" stroke="#ff0000" stroke-width="10.3" stroke-linejoin="round"/>
<path d="M1761.5 287 L1761.8 304 M1959.8 346 L1959.8 362 M2049.3 630 L2050 653" stroke="#1a0000" stroke-width="3.4"/>
</g>
</g>
<line x1="735.3" y1="149" x2="915.1" y2="149" stroke="#000" stroke-width="5.2"/>
<line x1="740.5" y1="223.4" x2="918.5" y2="223.4" stroke="#ff0000" stroke-width="10.6" stroke-linecap="round" stroke-dasharray="18.7 23.8"/>
<g filter="url(#soft)" font-family="'Liberation Serif', 'Times New Roman', serif" fill="#262626">
<text x="219.6" y="1363.0" font-size="74.5">10</text>
<text x="292.1" y="1327.2" font-size="56">1</text>
<text x="569.8" y="1363.0" font-size="74.5">10</text>
<text x="642.3" y="1327.2" font-size="56">2</text>
<text x="920.0" y="1363.0" font-size="74.5">10</text>
<text x="992.5" y="1327.2" font-size="56">3</text>
<text x="1270.2" y="1363.0" font-size="74.5">10</text>
<text x="1342.7" y="1327.2" font-size="56">4</text>
<text x="1620.4" y="1363.0" font-size="74.5">10</text>
<text x="1692.9" y="1327.2" font-size="56">5</text>
<text x="1970.6" y="1363.0" font-size="74.5">10</text>
<text x="2043.1" y="1327.2" font-size="56">6</text>
<text x="2320.8" y="1363.0" font-size="74.5">10</text>
<text x="2393.3" y="1327.2" font-size="56">7</text>
<text x="139.0" y="94.1" font-size="74.5">10</text>
<text x="211.5" y="58.3" font-size="56">6</text>
<text x="139.0" y="393.3" font-size="74.5">10</text>
<text x="211.5" y="357.5" font-size="56">4</text>
<text x="139.0" y="689.0" font-size="74.5">10</text>
<text x="211.5" y="653.2" font-size="56">2</text>
<text x="139.0" y="988.7" font-size="74.5">10</text>
<text x="211.5" y="952.9" font-size="56">0</text>
<text x="120.4" y="1281.0" font-size="74.5">10</text>
<text x="192.9" y="1245.2" font-size="56">-2</text>
<text x="1048" y="1466.6" font-size="86" textLength="541">Frequency [Hz]</text>
<text transform="translate(83.5 977.5) rotate(-90)" font-size="86" textLength="656">|Impedance| [Ohm]</text>
</g>
<g font-family="'Liberation Serif', 'Times New Roman', serif" fill="#000" stroke="#000" stroke-width="0.55" font-size="63.5">
<text x="986.5" y="158.8" textLength="553">From the experiment</text>
<text x="986.5" y="240.6" textLength="712.5">From the proposed method</text>
</g>
</svg>
</body>
</html>
